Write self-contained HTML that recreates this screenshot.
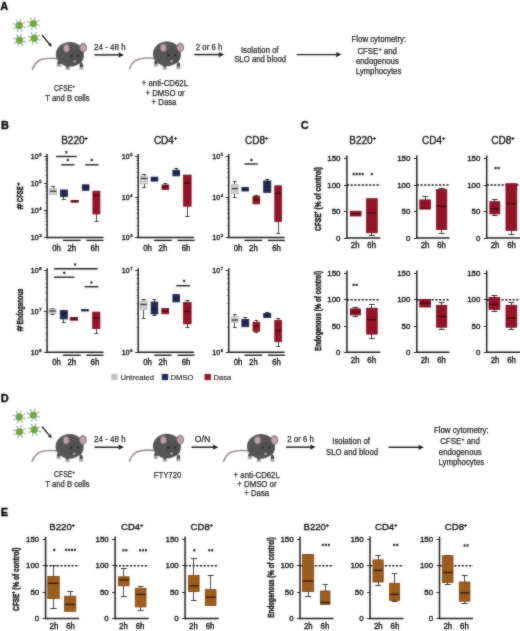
<!DOCTYPE html>
<html><head><meta charset="utf-8"><style>
html,body{margin:0;padding:0;background:#fff;}
body{width:520px;height:631px;overflow:hidden;}
svg{display:block;font-family:"Liberation Sans", sans-serif;-webkit-font-smoothing:antialiased;will-change:transform;}
svg text{stroke:#111;stroke-width:0.38px;}
</style></head><body>
<svg width="520" height="631" viewBox="0 0 520 631">
<defs>
<g id="mouse">
 <path d="M-13,5.2 C-20,4.6 -27,4.6 -31.5,7.6 C-34.5,9.6 -36.4,12.6 -37.4,15.8" fill="none" stroke="#9a8c8e" stroke-width="1.6" stroke-linecap="round"/>
 <ellipse cx="-11" cy="9.8" rx="1.7" ry="2.8" fill="#4a4a4b"/>
 <ellipse cx="-2.2" cy="12.6" rx="1.7" ry="3" fill="#4a4a4b"/>
 <ellipse cx="11.5" cy="12.2" rx="1.7" ry="3" fill="#4a4a4b"/>
 <ellipse cx="-11" cy="12.3" rx="2.4" ry="1.4" fill="#b3a6a9"/>
 <ellipse cx="-2.2" cy="15.4" rx="2.4" ry="1.4" fill="#b3a6a9"/>
 <ellipse cx="11.5" cy="14.9" rx="2.4" ry="1.4" fill="#b3a6a9"/>
 <ellipse cx="0" cy="0.9" rx="14" ry="12.3" fill="#555655"/>
 <ellipse cx="6" cy="3.6" rx="7.6" ry="7.4" fill="#4f504f"/>
 <ellipse cx="-3.5" cy="-5.4" rx="3.5" ry="4.4" fill="#7e7476"/>
 <ellipse cx="-3.5" cy="-5.2" rx="2.5" ry="3.3" fill="#bba9aa"/>
 <ellipse cx="13.3" cy="-5.6" rx="3.8" ry="4.7" fill="#7e7476"/>
 <ellipse cx="13.3" cy="-5.4" rx="2.7" ry="3.6" fill="#bba9aa"/>
 <circle cx="1.5" cy="2.3" r="1.0" fill="#1f1f22"/>
 <circle cx="8.4" cy="2.3" r="1.0" fill="#1f1f22"/>
 <ellipse cx="4.6" cy="8.2" rx="1.5" ry="1.0" fill="#c7b0b2"/>
</g><filter id="soft" color-interpolation-filters="sRGB" x="0" y="0" width="520" height="631" filterUnits="userSpaceOnUse"><feGaussianBlur in="SourceGraphic" stdDeviation="0.8" result="b"/><feComposite in="SourceGraphic" in2="b" operator="arithmetic" k1="0" k2="0.55" k3="0.45" k4="0"/></filter></defs>
<rect width="520" height="631" fill="#fff"/>
<g filter="url(#soft)">
<text x="0.30" y="9.80" font-size="11" text-anchor="start" font-weight="bold" fill="#000" >A</text>
<text x="1.00" y="128.80" font-size="11" text-anchor="start" font-weight="bold" fill="#000" >B</text>
<text x="300.80" y="129.20" font-size="11" text-anchor="start" font-weight="bold" fill="#000" >C</text>
<text x="0.80" y="402.00" font-size="11" text-anchor="start" font-weight="bold" fill="#000" >D</text>
<text x="0.80" y="515.90" font-size="11" text-anchor="start" font-weight="bold" fill="#000" >E</text>
<line x1="22.54" y1="26.53" x2="24.84" y2="27.24" stroke="#97bd82" stroke-width="0.9"/><circle cx="24.84" cy="27.24" r="0.8" fill="#93a7b8"/><line x1="20.83" y1="28.60" x2="21.95" y2="30.72" stroke="#97bd82" stroke-width="0.9"/><circle cx="21.95" cy="30.72" r="0.8" fill="#93a7b8"/><line x1="18.17" y1="28.84" x2="17.46" y2="31.14" stroke="#97bd82" stroke-width="0.9"/><circle cx="17.46" cy="31.14" r="0.8" fill="#93a7b8"/><line x1="16.10" y1="27.13" x2="13.98" y2="28.25" stroke="#97bd82" stroke-width="0.9"/><circle cx="13.98" cy="28.25" r="0.8" fill="#93a7b8"/><line x1="15.86" y1="24.47" x2="13.56" y2="23.76" stroke="#97bd82" stroke-width="0.9"/><circle cx="13.56" cy="23.76" r="0.8" fill="#93a7b8"/><line x1="17.57" y1="22.40" x2="16.45" y2="20.28" stroke="#97bd82" stroke-width="0.9"/><circle cx="16.45" cy="20.28" r="0.8" fill="#93a7b8"/><line x1="20.23" y1="22.16" x2="20.94" y2="19.86" stroke="#97bd82" stroke-width="0.9"/><circle cx="20.94" cy="19.86" r="0.8" fill="#93a7b8"/><line x1="22.30" y1="23.87" x2="24.42" y2="22.75" stroke="#97bd82" stroke-width="0.9"/><circle cx="24.42" cy="22.75" r="0.8" fill="#93a7b8"/><circle cx="19.2" cy="25.5" r="3.7" fill="#6ea843"/>
<line x1="36.74" y1="24.63" x2="39.04" y2="25.34" stroke="#97bd82" stroke-width="0.9"/><circle cx="39.04" cy="25.34" r="0.8" fill="#93a7b8"/><line x1="35.03" y1="26.70" x2="36.15" y2="28.82" stroke="#97bd82" stroke-width="0.9"/><circle cx="36.15" cy="28.82" r="0.8" fill="#93a7b8"/><line x1="32.37" y1="26.94" x2="31.66" y2="29.24" stroke="#97bd82" stroke-width="0.9"/><circle cx="31.66" cy="29.24" r="0.8" fill="#93a7b8"/><line x1="30.30" y1="25.23" x2="28.18" y2="26.35" stroke="#97bd82" stroke-width="0.9"/><circle cx="28.18" cy="26.35" r="0.8" fill="#93a7b8"/><line x1="30.06" y1="22.57" x2="27.76" y2="21.86" stroke="#97bd82" stroke-width="0.9"/><circle cx="27.76" cy="21.86" r="0.8" fill="#93a7b8"/><line x1="31.77" y1="20.50" x2="30.65" y2="18.38" stroke="#97bd82" stroke-width="0.9"/><circle cx="30.65" cy="18.38" r="0.8" fill="#93a7b8"/><line x1="34.43" y1="20.26" x2="35.14" y2="17.96" stroke="#97bd82" stroke-width="0.9"/><circle cx="35.14" cy="17.96" r="0.8" fill="#93a7b8"/><line x1="36.50" y1="21.97" x2="38.62" y2="20.85" stroke="#97bd82" stroke-width="0.9"/><circle cx="38.62" cy="20.85" r="0.8" fill="#93a7b8"/><circle cx="33.4" cy="23.6" r="3.7" fill="#6ea843"/>
<line x1="22.84" y1="41.23" x2="25.14" y2="41.94" stroke="#97bd82" stroke-width="0.9"/><circle cx="25.14" cy="41.94" r="0.8" fill="#93a7b8"/><line x1="21.13" y1="43.30" x2="22.25" y2="45.42" stroke="#97bd82" stroke-width="0.9"/><circle cx="22.25" cy="45.42" r="0.8" fill="#93a7b8"/><line x1="18.47" y1="43.54" x2="17.76" y2="45.84" stroke="#97bd82" stroke-width="0.9"/><circle cx="17.76" cy="45.84" r="0.8" fill="#93a7b8"/><line x1="16.40" y1="41.83" x2="14.28" y2="42.95" stroke="#97bd82" stroke-width="0.9"/><circle cx="14.28" cy="42.95" r="0.8" fill="#93a7b8"/><line x1="16.16" y1="39.17" x2="13.86" y2="38.46" stroke="#97bd82" stroke-width="0.9"/><circle cx="13.86" cy="38.46" r="0.8" fill="#93a7b8"/><line x1="17.87" y1="37.10" x2="16.75" y2="34.98" stroke="#97bd82" stroke-width="0.9"/><circle cx="16.75" cy="34.98" r="0.8" fill="#93a7b8"/><line x1="20.53" y1="36.86" x2="21.24" y2="34.56" stroke="#97bd82" stroke-width="0.9"/><circle cx="21.24" cy="34.56" r="0.8" fill="#93a7b8"/><line x1="22.60" y1="38.57" x2="24.72" y2="37.45" stroke="#97bd82" stroke-width="0.9"/><circle cx="24.72" cy="37.45" r="0.8" fill="#93a7b8"/><circle cx="19.5" cy="40.2" r="3.7" fill="#6ea843"/>
<line x1="37.54" y1="39.23" x2="39.84" y2="39.94" stroke="#97bd82" stroke-width="0.9"/><circle cx="39.84" cy="39.94" r="0.8" fill="#93a7b8"/><line x1="35.83" y1="41.30" x2="36.95" y2="43.42" stroke="#97bd82" stroke-width="0.9"/><circle cx="36.95" cy="43.42" r="0.8" fill="#93a7b8"/><line x1="33.17" y1="41.54" x2="32.46" y2="43.84" stroke="#97bd82" stroke-width="0.9"/><circle cx="32.46" cy="43.84" r="0.8" fill="#93a7b8"/><line x1="31.10" y1="39.83" x2="28.98" y2="40.95" stroke="#97bd82" stroke-width="0.9"/><circle cx="28.98" cy="40.95" r="0.8" fill="#93a7b8"/><line x1="30.86" y1="37.17" x2="28.56" y2="36.46" stroke="#97bd82" stroke-width="0.9"/><circle cx="28.56" cy="36.46" r="0.8" fill="#93a7b8"/><line x1="32.57" y1="35.10" x2="31.45" y2="32.98" stroke="#97bd82" stroke-width="0.9"/><circle cx="31.45" cy="32.98" r="0.8" fill="#93a7b8"/><line x1="35.23" y1="34.86" x2="35.94" y2="32.56" stroke="#97bd82" stroke-width="0.9"/><circle cx="35.94" cy="32.56" r="0.8" fill="#93a7b8"/><line x1="37.30" y1="36.57" x2="39.42" y2="35.45" stroke="#97bd82" stroke-width="0.9"/><circle cx="39.42" cy="35.45" r="0.8" fill="#93a7b8"/><circle cx="34.2" cy="38.2" r="3.7" fill="#6ea843"/>
<line x1="42.00" y1="35.00" x2="49.37" y2="43.88" stroke="#111" stroke-width="1.3" />
<path d="M51.80,46.80 L47.91,45.09 L50.83,42.66 Z" fill="#111"/>
<use href="#mouse" transform="translate(69.9,53.4)"/>
<text x="94.00" y="50.00" font-size="8.4" text-anchor="start" fill="#262626" style="stroke:#262626;stroke-width:0.25px" textLength="31.60" lengthAdjust="spacingAndGlyphs">24 - 48 h</text>
<line x1="94.50" y1="54.90" x2="119.90" y2="54.90" stroke="#111" stroke-width="1.4" />
<path d="M123.90,54.90 L118.30,52.30 L119.30,54.90 L118.30,57.50 Z" fill="#111"/>
<text x="64.60" y="91.40" font-size="8.4" text-anchor="middle" fill="#262626" style="stroke:#262626;stroke-width:0.25px" textLength="21.00" lengthAdjust="spacingAndGlyphs">CFSE<tspan font-size="6" dy="-3.3">+</tspan></text>
<text x="67.40" y="101.20" font-size="8.4" text-anchor="middle" fill="#262626" style="stroke:#262626;stroke-width:0.25px" textLength="44.20" lengthAdjust="spacingAndGlyphs">T and B cells</text>
<use href="#mouse" transform="translate(166.9,53.0)"/>
<text x="164.90" y="86.20" font-size="8.4" text-anchor="middle" fill="#262626" style="stroke:#262626;stroke-width:0.25px" textLength="46.17" lengthAdjust="spacingAndGlyphs">+ anti-CD62L</text>
<text x="165.10" y="95.70" font-size="8.4" text-anchor="middle" fill="#262626" style="stroke:#262626;stroke-width:0.25px" textLength="39.22" lengthAdjust="spacingAndGlyphs">+ DMSO or</text>
<text x="164.00" y="105.00" font-size="8.4" text-anchor="middle" fill="#262626" style="stroke:#262626;stroke-width:0.25px" textLength="24.93" lengthAdjust="spacingAndGlyphs">+ Dasa</text>
<text x="195.80" y="50.20" font-size="8.4" text-anchor="start" fill="#262626" style="stroke:#262626;stroke-width:0.25px" textLength="26.45" lengthAdjust="spacingAndGlyphs">2 or 6 h</text>
<line x1="194.20" y1="54.60" x2="220.20" y2="54.60" stroke="#111" stroke-width="1.4" />
<path d="M224.20,54.60 L218.60,52.00 L219.60,54.60 L218.60,57.20 Z" fill="#111"/>
<text x="259.80" y="52.50" font-size="8.4" text-anchor="middle" fill="#262626" style="stroke:#262626;stroke-width:0.25px" textLength="37.72" lengthAdjust="spacingAndGlyphs">Isolation of</text>
<text x="260.20" y="62.10" font-size="8.4" text-anchor="middle" fill="#262626" style="stroke:#262626;stroke-width:0.25px" textLength="52.04" lengthAdjust="spacingAndGlyphs">SLO and blood</text>
<line x1="296.70" y1="54.60" x2="337.40" y2="54.60" stroke="#111" stroke-width="1.4" />
<path d="M341.40,54.60 L335.80,52.00 L336.80,54.60 L335.80,57.20 Z" fill="#111"/>
<text x="378.90" y="41.80" font-size="8.4" text-anchor="middle" fill="#262626" style="stroke:#262626;stroke-width:0.25px" textLength="54.60" lengthAdjust="spacingAndGlyphs">Flow cytometry:</text>
<text x="377.20" y="54.00" font-size="8.4" text-anchor="middle" fill="#262626" style="stroke:#262626;stroke-width:0.25px" textLength="39.60" lengthAdjust="spacingAndGlyphs">CFSE<tspan font-size="6" dy="-3.3">+</tspan><tspan dy="3.3"> and</tspan></text>
<text x="377.40" y="63.80" font-size="8.4" text-anchor="middle" fill="#262626" style="stroke:#262626;stroke-width:0.25px" textLength="42.94" lengthAdjust="spacingAndGlyphs">endogenous</text>
<text x="378.50" y="73.50" font-size="8.4" text-anchor="middle" fill="#262626" style="stroke:#262626;stroke-width:0.25px" textLength="45.66" lengthAdjust="spacingAndGlyphs">Lymphocytes</text>
<line x1="22.54" y1="418.03" x2="24.84" y2="418.74" stroke="#97bd82" stroke-width="0.9"/><circle cx="24.84" cy="418.74" r="0.8" fill="#93a7b8"/><line x1="20.83" y1="420.10" x2="21.95" y2="422.22" stroke="#97bd82" stroke-width="0.9"/><circle cx="21.95" cy="422.22" r="0.8" fill="#93a7b8"/><line x1="18.17" y1="420.34" x2="17.46" y2="422.64" stroke="#97bd82" stroke-width="0.9"/><circle cx="17.46" cy="422.64" r="0.8" fill="#93a7b8"/><line x1="16.10" y1="418.63" x2="13.98" y2="419.75" stroke="#97bd82" stroke-width="0.9"/><circle cx="13.98" cy="419.75" r="0.8" fill="#93a7b8"/><line x1="15.86" y1="415.97" x2="13.56" y2="415.26" stroke="#97bd82" stroke-width="0.9"/><circle cx="13.56" cy="415.26" r="0.8" fill="#93a7b8"/><line x1="17.57" y1="413.90" x2="16.45" y2="411.78" stroke="#97bd82" stroke-width="0.9"/><circle cx="16.45" cy="411.78" r="0.8" fill="#93a7b8"/><line x1="20.23" y1="413.66" x2="20.94" y2="411.36" stroke="#97bd82" stroke-width="0.9"/><circle cx="20.94" cy="411.36" r="0.8" fill="#93a7b8"/><line x1="22.30" y1="415.37" x2="24.42" y2="414.25" stroke="#97bd82" stroke-width="0.9"/><circle cx="24.42" cy="414.25" r="0.8" fill="#93a7b8"/><circle cx="19.2" cy="417.0" r="3.7" fill="#6ea843"/>
<line x1="36.74" y1="416.13" x2="39.04" y2="416.84" stroke="#97bd82" stroke-width="0.9"/><circle cx="39.04" cy="416.84" r="0.8" fill="#93a7b8"/><line x1="35.03" y1="418.20" x2="36.15" y2="420.32" stroke="#97bd82" stroke-width="0.9"/><circle cx="36.15" cy="420.32" r="0.8" fill="#93a7b8"/><line x1="32.37" y1="418.44" x2="31.66" y2="420.74" stroke="#97bd82" stroke-width="0.9"/><circle cx="31.66" cy="420.74" r="0.8" fill="#93a7b8"/><line x1="30.30" y1="416.73" x2="28.18" y2="417.85" stroke="#97bd82" stroke-width="0.9"/><circle cx="28.18" cy="417.85" r="0.8" fill="#93a7b8"/><line x1="30.06" y1="414.07" x2="27.76" y2="413.36" stroke="#97bd82" stroke-width="0.9"/><circle cx="27.76" cy="413.36" r="0.8" fill="#93a7b8"/><line x1="31.77" y1="412.00" x2="30.65" y2="409.88" stroke="#97bd82" stroke-width="0.9"/><circle cx="30.65" cy="409.88" r="0.8" fill="#93a7b8"/><line x1="34.43" y1="411.76" x2="35.14" y2="409.46" stroke="#97bd82" stroke-width="0.9"/><circle cx="35.14" cy="409.46" r="0.8" fill="#93a7b8"/><line x1="36.50" y1="413.47" x2="38.62" y2="412.35" stroke="#97bd82" stroke-width="0.9"/><circle cx="38.62" cy="412.35" r="0.8" fill="#93a7b8"/><circle cx="33.4" cy="415.1" r="3.7" fill="#6ea843"/>
<line x1="22.84" y1="432.73" x2="25.14" y2="433.44" stroke="#97bd82" stroke-width="0.9"/><circle cx="25.14" cy="433.44" r="0.8" fill="#93a7b8"/><line x1="21.13" y1="434.80" x2="22.25" y2="436.92" stroke="#97bd82" stroke-width="0.9"/><circle cx="22.25" cy="436.92" r="0.8" fill="#93a7b8"/><line x1="18.47" y1="435.04" x2="17.76" y2="437.34" stroke="#97bd82" stroke-width="0.9"/><circle cx="17.76" cy="437.34" r="0.8" fill="#93a7b8"/><line x1="16.40" y1="433.33" x2="14.28" y2="434.45" stroke="#97bd82" stroke-width="0.9"/><circle cx="14.28" cy="434.45" r="0.8" fill="#93a7b8"/><line x1="16.16" y1="430.67" x2="13.86" y2="429.96" stroke="#97bd82" stroke-width="0.9"/><circle cx="13.86" cy="429.96" r="0.8" fill="#93a7b8"/><line x1="17.87" y1="428.60" x2="16.75" y2="426.48" stroke="#97bd82" stroke-width="0.9"/><circle cx="16.75" cy="426.48" r="0.8" fill="#93a7b8"/><line x1="20.53" y1="428.36" x2="21.24" y2="426.06" stroke="#97bd82" stroke-width="0.9"/><circle cx="21.24" cy="426.06" r="0.8" fill="#93a7b8"/><line x1="22.60" y1="430.07" x2="24.72" y2="428.95" stroke="#97bd82" stroke-width="0.9"/><circle cx="24.72" cy="428.95" r="0.8" fill="#93a7b8"/><circle cx="19.5" cy="431.7" r="3.7" fill="#6ea843"/>
<line x1="37.54" y1="430.73" x2="39.84" y2="431.44" stroke="#97bd82" stroke-width="0.9"/><circle cx="39.84" cy="431.44" r="0.8" fill="#93a7b8"/><line x1="35.83" y1="432.80" x2="36.95" y2="434.92" stroke="#97bd82" stroke-width="0.9"/><circle cx="36.95" cy="434.92" r="0.8" fill="#93a7b8"/><line x1="33.17" y1="433.04" x2="32.46" y2="435.34" stroke="#97bd82" stroke-width="0.9"/><circle cx="32.46" cy="435.34" r="0.8" fill="#93a7b8"/><line x1="31.10" y1="431.33" x2="28.98" y2="432.45" stroke="#97bd82" stroke-width="0.9"/><circle cx="28.98" cy="432.45" r="0.8" fill="#93a7b8"/><line x1="30.86" y1="428.67" x2="28.56" y2="427.96" stroke="#97bd82" stroke-width="0.9"/><circle cx="28.56" cy="427.96" r="0.8" fill="#93a7b8"/><line x1="32.57" y1="426.60" x2="31.45" y2="424.48" stroke="#97bd82" stroke-width="0.9"/><circle cx="31.45" cy="424.48" r="0.8" fill="#93a7b8"/><line x1="35.23" y1="426.36" x2="35.94" y2="424.06" stroke="#97bd82" stroke-width="0.9"/><circle cx="35.94" cy="424.06" r="0.8" fill="#93a7b8"/><line x1="37.30" y1="428.07" x2="39.42" y2="426.95" stroke="#97bd82" stroke-width="0.9"/><circle cx="39.42" cy="426.95" r="0.8" fill="#93a7b8"/><circle cx="34.2" cy="429.7" r="3.7" fill="#6ea843"/>
<line x1="42.00" y1="426.50" x2="49.37" y2="435.38" stroke="#111" stroke-width="1.3" />
<path d="M51.80,438.30 L47.91,436.59 L50.83,434.16 Z" fill="#111"/>
<use href="#mouse" transform="translate(69.6,445.5)"/>
<text x="94.00" y="441.50" font-size="8.4" text-anchor="start" fill="#262626" style="stroke:#262626;stroke-width:0.25px" textLength="31.60" lengthAdjust="spacingAndGlyphs">24 - 48 h</text>
<line x1="94.50" y1="447.20" x2="119.90" y2="447.20" stroke="#111" stroke-width="1.4" />
<path d="M123.90,447.20 L118.30,444.60 L119.30,447.20 L118.30,449.80 Z" fill="#111"/>
<text x="64.60" y="477.20" font-size="8.4" text-anchor="middle" fill="#262626" style="stroke:#262626;stroke-width:0.25px" textLength="21.00" lengthAdjust="spacingAndGlyphs">CFSE<tspan font-size="6" dy="-3.3">+</tspan></text>
<text x="67.40" y="486.90" font-size="8.4" text-anchor="middle" fill="#262626" style="stroke:#262626;stroke-width:0.25px" textLength="44.20" lengthAdjust="spacingAndGlyphs">T and B cells</text>
<use href="#mouse" transform="translate(166.9,445.2)"/>
<text x="167.50" y="477.90" font-size="8.4" text-anchor="middle" fill="#262626" style="stroke:#262626;stroke-width:0.25px" textLength="27.74" lengthAdjust="spacingAndGlyphs">FTY720</text>
<text x="194.80" y="442.10" font-size="8.4" text-anchor="start" fill="#262626" style="stroke:#262626;stroke-width:0.25px" textLength="15.40" lengthAdjust="spacingAndGlyphs">O/N</text>
<line x1="191.40" y1="447.20" x2="214.30" y2="447.20" stroke="#111" stroke-width="1.4" />
<path d="M218.30,447.20 L212.70,444.60 L213.70,447.20 L212.70,449.80 Z" fill="#111"/>
<use href="#mouse" transform="translate(261.0,445.5)"/>
<text x="256.70" y="477.70" font-size="8.4" text-anchor="middle" fill="#262626" style="stroke:#262626;stroke-width:0.25px" textLength="46.17" lengthAdjust="spacingAndGlyphs">+ anti-CD62L</text>
<text x="256.90" y="487.20" font-size="8.4" text-anchor="middle" fill="#262626" style="stroke:#262626;stroke-width:0.25px" textLength="39.22" lengthAdjust="spacingAndGlyphs">+ DMSO or</text>
<text x="256.70" y="496.30" font-size="8.4" text-anchor="middle" fill="#262626" style="stroke:#262626;stroke-width:0.25px" textLength="24.93" lengthAdjust="spacingAndGlyphs">+ Dasa</text>
<text x="287.30" y="441.90" font-size="8.4" text-anchor="start" fill="#262626" style="stroke:#262626;stroke-width:0.25px" textLength="26.45" lengthAdjust="spacingAndGlyphs">2 or 6 h</text>
<line x1="286.00" y1="447.10" x2="311.60" y2="447.10" stroke="#111" stroke-width="1.4" />
<path d="M315.60,447.10 L310.00,444.50 L311.00,447.10 L310.00,449.70 Z" fill="#111"/>
<text x="351.10" y="444.20" font-size="8.4" text-anchor="middle" fill="#262626" style="stroke:#262626;stroke-width:0.25px" textLength="37.72" lengthAdjust="spacingAndGlyphs">Isolation of</text>
<text x="352.10" y="454.60" font-size="8.4" text-anchor="middle" fill="#262626" style="stroke:#262626;stroke-width:0.25px" textLength="52.04" lengthAdjust="spacingAndGlyphs">SLO and blood</text>
<line x1="388.50" y1="447.30" x2="419.80" y2="447.30" stroke="#111" stroke-width="1.4" />
<path d="M423.80,447.30 L418.20,444.70 L419.20,447.30 L418.20,449.90 Z" fill="#111"/>
<text x="461.30" y="432.70" font-size="8.4" text-anchor="middle" fill="#262626" style="stroke:#262626;stroke-width:0.25px" textLength="54.60" lengthAdjust="spacingAndGlyphs">Flow cytometry:</text>
<text x="460.00" y="443.90" font-size="8.4" text-anchor="middle" fill="#262626" style="stroke:#262626;stroke-width:0.25px" textLength="39.60" lengthAdjust="spacingAndGlyphs">CFSE<tspan font-size="6" dy="-3.3">+</tspan><tspan dy="3.3"> and</tspan></text>
<text x="460.30" y="455.40" font-size="8.4" text-anchor="middle" fill="#262626" style="stroke:#262626;stroke-width:0.25px" textLength="42.94" lengthAdjust="spacingAndGlyphs">endogenous</text>
<text x="461.30" y="465.00" font-size="8.4" text-anchor="middle" fill="#262626" style="stroke:#262626;stroke-width:0.25px" textLength="45.66" lengthAdjust="spacingAndGlyphs">Lymphocytes</text>
<text x="74.50" y="143.80" font-size="10" text-anchor="middle" fill="#1e1e1e">B220<tspan font-size="5.50" dy="-4.00">+</tspan></text>
<text x="165.50" y="143.80" font-size="10" text-anchor="middle" fill="#1e1e1e">CD4<tspan font-size="5.50" dy="-4.00">+</tspan></text>
<text x="256.60" y="143.80" font-size="10" text-anchor="middle" fill="#1e1e1e">CD8<tspan font-size="5.50" dy="-4.00">+</tspan></text>
<line x1="47.10" y1="154.00" x2="47.10" y2="238.30" stroke="#1a1a1a" stroke-width="1.5" />
<line x1="46.40" y1="237.60" x2="103.50" y2="237.60" stroke="#1a1a1a" stroke-width="1.5" />
<line x1="44.10" y1="156.50" x2="47.10" y2="156.50" stroke="#222" stroke-width="1.0" />
<text x="41.50" y="159.30" font-size="7.0" text-anchor="end" fill="#1e1e1e">10<tspan font-size="4.20" dy="-2.94" dx="0.6">6</tspan></text>
<line x1="44.10" y1="183.50" x2="47.10" y2="183.50" stroke="#222" stroke-width="1.0" />
<text x="41.50" y="186.30" font-size="7.0" text-anchor="end" fill="#1e1e1e">10<tspan font-size="4.20" dy="-2.94" dx="0.6">5</tspan></text>
<line x1="44.10" y1="210.50" x2="47.10" y2="210.50" stroke="#222" stroke-width="1.0" />
<text x="41.50" y="213.20" font-size="7.0" text-anchor="end" fill="#1e1e1e">10<tspan font-size="4.20" dy="-2.94" dx="0.6">4</tspan></text>
<line x1="44.10" y1="237.50" x2="47.10" y2="237.50" stroke="#222" stroke-width="1.0" />
<text x="41.50" y="240.10" font-size="7.0" text-anchor="end" fill="#1e1e1e">10<tspan font-size="4.20" dy="-2.94" dx="0.6">3</tspan></text>
<line x1="45.50" y1="175.50" x2="47.10" y2="175.50" stroke="#333" stroke-width="0.7" />
<line x1="45.50" y1="170.50" x2="47.10" y2="170.50" stroke="#333" stroke-width="0.7" />
<line x1="45.50" y1="167.50" x2="47.10" y2="167.50" stroke="#333" stroke-width="0.7" />
<line x1="45.50" y1="164.50" x2="47.10" y2="164.50" stroke="#333" stroke-width="0.7" />
<line x1="45.50" y1="162.50" x2="47.10" y2="162.50" stroke="#333" stroke-width="0.7" />
<line x1="45.50" y1="160.50" x2="47.10" y2="160.50" stroke="#333" stroke-width="0.7" />
<line x1="45.50" y1="159.50" x2="47.10" y2="159.50" stroke="#333" stroke-width="0.7" />
<line x1="45.50" y1="158.50" x2="47.10" y2="158.50" stroke="#333" stroke-width="0.7" />
<line x1="45.50" y1="202.50" x2="47.10" y2="202.50" stroke="#333" stroke-width="0.7" />
<line x1="45.50" y1="197.50" x2="47.10" y2="197.50" stroke="#333" stroke-width="0.7" />
<line x1="45.50" y1="194.50" x2="47.10" y2="194.50" stroke="#333" stroke-width="0.7" />
<line x1="45.50" y1="191.50" x2="47.10" y2="191.50" stroke="#333" stroke-width="0.7" />
<line x1="45.50" y1="189.50" x2="47.10" y2="189.50" stroke="#333" stroke-width="0.7" />
<line x1="45.50" y1="187.50" x2="47.10" y2="187.50" stroke="#333" stroke-width="0.7" />
<line x1="45.50" y1="186.50" x2="47.10" y2="186.50" stroke="#333" stroke-width="0.7" />
<line x1="45.50" y1="185.50" x2="47.10" y2="185.50" stroke="#333" stroke-width="0.7" />
<line x1="45.50" y1="229.50" x2="47.10" y2="229.50" stroke="#333" stroke-width="0.7" />
<line x1="45.50" y1="224.50" x2="47.10" y2="224.50" stroke="#333" stroke-width="0.7" />
<line x1="45.50" y1="221.50" x2="47.10" y2="221.50" stroke="#333" stroke-width="0.7" />
<line x1="45.50" y1="218.50" x2="47.10" y2="218.50" stroke="#333" stroke-width="0.7" />
<line x1="45.50" y1="216.50" x2="47.10" y2="216.50" stroke="#333" stroke-width="0.7" />
<line x1="45.50" y1="214.50" x2="47.10" y2="214.50" stroke="#333" stroke-width="0.7" />
<line x1="45.50" y1="213.50" x2="47.10" y2="213.50" stroke="#333" stroke-width="0.7" />
<line x1="45.50" y1="211.50" x2="47.10" y2="211.50" stroke="#333" stroke-width="0.7" />
<line x1="63.00" y1="240.40" x2="80.60" y2="240.40" stroke="#1a1a1a" stroke-width="1.4" />
<line x1="86.40" y1="240.40" x2="103.40" y2="240.40" stroke="#1a1a1a" stroke-width="1.4" />
<text x="56.50" y="250.90" font-size="8.19" text-anchor="middle" fill="#1e1e1e" textLength="8.68" lengthAdjust="spacingAndGlyphs">0h</text>
<text x="71.80" y="250.90" font-size="8.19" text-anchor="middle" fill="#1e1e1e" textLength="8.68" lengthAdjust="spacingAndGlyphs">2h</text>
<text x="94.90" y="250.90" font-size="8.19" text-anchor="middle" fill="#1e1e1e" textLength="8.68" lengthAdjust="spacingAndGlyphs">6h</text>
<line x1="138.20" y1="154.00" x2="138.20" y2="238.30" stroke="#1a1a1a" stroke-width="1.5" />
<line x1="137.50" y1="237.60" x2="194.00" y2="237.60" stroke="#1a1a1a" stroke-width="1.5" />
<line x1="135.20" y1="156.50" x2="138.20" y2="156.50" stroke="#222" stroke-width="1.0" />
<text x="132.60" y="159.30" font-size="7.0" text-anchor="end" fill="#1e1e1e">10<tspan font-size="4.20" dy="-2.94" dx="0.6">5</tspan></text>
<line x1="135.20" y1="197.50" x2="138.20" y2="197.50" stroke="#222" stroke-width="1.0" />
<text x="132.60" y="199.70" font-size="7.0" text-anchor="end" fill="#1e1e1e">10<tspan font-size="4.20" dy="-2.94" dx="0.6">4</tspan></text>
<line x1="135.20" y1="237.50" x2="138.20" y2="237.50" stroke="#222" stroke-width="1.0" />
<text x="132.60" y="240.10" font-size="7.0" text-anchor="end" fill="#1e1e1e">10<tspan font-size="4.20" dy="-2.94" dx="0.6">3</tspan></text>
<line x1="136.60" y1="185.50" x2="138.20" y2="185.50" stroke="#333" stroke-width="0.7" />
<line x1="136.60" y1="177.50" x2="138.20" y2="177.50" stroke="#333" stroke-width="0.7" />
<line x1="136.60" y1="172.50" x2="138.20" y2="172.50" stroke="#333" stroke-width="0.7" />
<line x1="136.60" y1="168.50" x2="138.20" y2="168.50" stroke="#333" stroke-width="0.7" />
<line x1="136.60" y1="165.50" x2="138.20" y2="165.50" stroke="#333" stroke-width="0.7" />
<line x1="136.60" y1="163.50" x2="138.20" y2="163.50" stroke="#333" stroke-width="0.7" />
<line x1="136.60" y1="160.50" x2="138.20" y2="160.50" stroke="#333" stroke-width="0.7" />
<line x1="136.60" y1="158.50" x2="138.20" y2="158.50" stroke="#333" stroke-width="0.7" />
<line x1="136.60" y1="225.50" x2="138.20" y2="225.50" stroke="#333" stroke-width="0.7" />
<line x1="136.60" y1="218.50" x2="138.20" y2="218.50" stroke="#333" stroke-width="0.7" />
<line x1="136.60" y1="213.50" x2="138.20" y2="213.50" stroke="#333" stroke-width="0.7" />
<line x1="136.60" y1="209.50" x2="138.20" y2="209.50" stroke="#333" stroke-width="0.7" />
<line x1="136.60" y1="206.50" x2="138.20" y2="206.50" stroke="#333" stroke-width="0.7" />
<line x1="136.60" y1="203.50" x2="138.20" y2="203.50" stroke="#333" stroke-width="0.7" />
<line x1="136.60" y1="201.50" x2="138.20" y2="201.50" stroke="#333" stroke-width="0.7" />
<line x1="136.60" y1="199.50" x2="138.20" y2="199.50" stroke="#333" stroke-width="0.7" />
<line x1="154.10" y1="240.40" x2="171.70" y2="240.40" stroke="#1a1a1a" stroke-width="1.4" />
<line x1="177.50" y1="240.40" x2="194.50" y2="240.40" stroke="#1a1a1a" stroke-width="1.4" />
<text x="147.60" y="250.90" font-size="8.19" text-anchor="middle" fill="#1e1e1e" textLength="8.68" lengthAdjust="spacingAndGlyphs">0h</text>
<text x="162.90" y="250.90" font-size="8.19" text-anchor="middle" fill="#1e1e1e" textLength="8.68" lengthAdjust="spacingAndGlyphs">2h</text>
<text x="186.00" y="250.90" font-size="8.19" text-anchor="middle" fill="#1e1e1e" textLength="8.68" lengthAdjust="spacingAndGlyphs">6h</text>
<line x1="228.70" y1="154.00" x2="228.70" y2="238.30" stroke="#1a1a1a" stroke-width="1.5" />
<line x1="228.00" y1="237.60" x2="284.50" y2="237.60" stroke="#1a1a1a" stroke-width="1.5" />
<line x1="225.70" y1="156.50" x2="228.70" y2="156.50" stroke="#222" stroke-width="1.0" />
<text x="223.10" y="159.30" font-size="7.0" text-anchor="end" fill="#1e1e1e">10<tspan font-size="4.20" dy="-2.94" dx="0.6">5</tspan></text>
<line x1="225.70" y1="197.50" x2="228.70" y2="197.50" stroke="#222" stroke-width="1.0" />
<text x="223.10" y="199.70" font-size="7.0" text-anchor="end" fill="#1e1e1e">10<tspan font-size="4.20" dy="-2.94" dx="0.6">4</tspan></text>
<line x1="225.70" y1="237.50" x2="228.70" y2="237.50" stroke="#222" stroke-width="1.0" />
<text x="223.10" y="240.10" font-size="7.0" text-anchor="end" fill="#1e1e1e">10<tspan font-size="4.20" dy="-2.94" dx="0.6">3</tspan></text>
<line x1="227.10" y1="185.50" x2="228.70" y2="185.50" stroke="#333" stroke-width="0.7" />
<line x1="227.10" y1="177.50" x2="228.70" y2="177.50" stroke="#333" stroke-width="0.7" />
<line x1="227.10" y1="172.50" x2="228.70" y2="172.50" stroke="#333" stroke-width="0.7" />
<line x1="227.10" y1="168.50" x2="228.70" y2="168.50" stroke="#333" stroke-width="0.7" />
<line x1="227.10" y1="165.50" x2="228.70" y2="165.50" stroke="#333" stroke-width="0.7" />
<line x1="227.10" y1="163.50" x2="228.70" y2="163.50" stroke="#333" stroke-width="0.7" />
<line x1="227.10" y1="160.50" x2="228.70" y2="160.50" stroke="#333" stroke-width="0.7" />
<line x1="227.10" y1="158.50" x2="228.70" y2="158.50" stroke="#333" stroke-width="0.7" />
<line x1="227.10" y1="225.50" x2="228.70" y2="225.50" stroke="#333" stroke-width="0.7" />
<line x1="227.10" y1="218.50" x2="228.70" y2="218.50" stroke="#333" stroke-width="0.7" />
<line x1="227.10" y1="213.50" x2="228.70" y2="213.50" stroke="#333" stroke-width="0.7" />
<line x1="227.10" y1="209.50" x2="228.70" y2="209.50" stroke="#333" stroke-width="0.7" />
<line x1="227.10" y1="206.50" x2="228.70" y2="206.50" stroke="#333" stroke-width="0.7" />
<line x1="227.10" y1="203.50" x2="228.70" y2="203.50" stroke="#333" stroke-width="0.7" />
<line x1="227.10" y1="201.50" x2="228.70" y2="201.50" stroke="#333" stroke-width="0.7" />
<line x1="227.10" y1="199.50" x2="228.70" y2="199.50" stroke="#333" stroke-width="0.7" />
<line x1="244.60" y1="240.40" x2="262.20" y2="240.40" stroke="#1a1a1a" stroke-width="1.4" />
<line x1="268.00" y1="240.40" x2="285.00" y2="240.40" stroke="#1a1a1a" stroke-width="1.4" />
<text x="238.10" y="250.90" font-size="8.19" text-anchor="middle" fill="#1e1e1e" textLength="8.68" lengthAdjust="spacingAndGlyphs">0h</text>
<text x="253.40" y="250.90" font-size="8.19" text-anchor="middle" fill="#1e1e1e" textLength="8.68" lengthAdjust="spacingAndGlyphs">2h</text>
<text x="276.50" y="250.90" font-size="8.19" text-anchor="middle" fill="#1e1e1e" textLength="8.68" lengthAdjust="spacingAndGlyphs">6h</text>
<line x1="47.10" y1="268.20" x2="47.10" y2="353.00" stroke="#1a1a1a" stroke-width="1.5" />
<line x1="46.40" y1="352.30" x2="103.50" y2="352.30" stroke="#1a1a1a" stroke-width="1.5" />
<line x1="44.10" y1="270.50" x2="47.10" y2="270.50" stroke="#222" stroke-width="1.0" />
<text x="41.50" y="273.40" font-size="7.0" text-anchor="end" fill="#1e1e1e">10<tspan font-size="4.20" dy="-2.94" dx="0.6">8</tspan></text>
<line x1="44.10" y1="311.50" x2="47.10" y2="311.50" stroke="#222" stroke-width="1.0" />
<text x="41.50" y="314.20" font-size="7.0" text-anchor="end" fill="#1e1e1e">10<tspan font-size="4.20" dy="-2.94" dx="0.6">7</tspan></text>
<line x1="44.10" y1="352.50" x2="47.10" y2="352.50" stroke="#222" stroke-width="1.0" />
<text x="41.50" y="355.00" font-size="7.0" text-anchor="end" fill="#1e1e1e">10<tspan font-size="4.20" dy="-2.94" dx="0.6">6</tspan></text>
<line x1="45.50" y1="299.50" x2="47.10" y2="299.50" stroke="#333" stroke-width="0.7" />
<line x1="45.50" y1="292.50" x2="47.10" y2="292.50" stroke="#333" stroke-width="0.7" />
<line x1="45.50" y1="287.50" x2="47.10" y2="287.50" stroke="#333" stroke-width="0.7" />
<line x1="45.50" y1="283.50" x2="47.10" y2="283.50" stroke="#333" stroke-width="0.7" />
<line x1="45.50" y1="279.50" x2="47.10" y2="279.50" stroke="#333" stroke-width="0.7" />
<line x1="45.50" y1="277.50" x2="47.10" y2="277.50" stroke="#333" stroke-width="0.7" />
<line x1="45.50" y1="274.50" x2="47.10" y2="274.50" stroke="#333" stroke-width="0.7" />
<line x1="45.50" y1="272.50" x2="47.10" y2="272.50" stroke="#333" stroke-width="0.7" />
<line x1="45.50" y1="340.50" x2="47.10" y2="340.50" stroke="#333" stroke-width="0.7" />
<line x1="45.50" y1="333.50" x2="47.10" y2="333.50" stroke="#333" stroke-width="0.7" />
<line x1="45.50" y1="327.50" x2="47.10" y2="327.50" stroke="#333" stroke-width="0.7" />
<line x1="45.50" y1="323.50" x2="47.10" y2="323.50" stroke="#333" stroke-width="0.7" />
<line x1="45.50" y1="320.50" x2="47.10" y2="320.50" stroke="#333" stroke-width="0.7" />
<line x1="45.50" y1="318.50" x2="47.10" y2="318.50" stroke="#333" stroke-width="0.7" />
<line x1="45.50" y1="315.50" x2="47.10" y2="315.50" stroke="#333" stroke-width="0.7" />
<line x1="45.50" y1="313.50" x2="47.10" y2="313.50" stroke="#333" stroke-width="0.7" />
<line x1="63.00" y1="355.20" x2="80.60" y2="355.20" stroke="#1a1a1a" stroke-width="1.4" />
<line x1="86.40" y1="355.20" x2="103.40" y2="355.20" stroke="#1a1a1a" stroke-width="1.4" />
<text x="56.50" y="364.70" font-size="8.19" text-anchor="middle" fill="#1e1e1e" textLength="8.68" lengthAdjust="spacingAndGlyphs">0h</text>
<text x="71.80" y="364.70" font-size="8.19" text-anchor="middle" fill="#1e1e1e" textLength="8.68" lengthAdjust="spacingAndGlyphs">2h</text>
<text x="94.90" y="364.70" font-size="8.19" text-anchor="middle" fill="#1e1e1e" textLength="8.68" lengthAdjust="spacingAndGlyphs">6h</text>
<line x1="138.20" y1="268.20" x2="138.20" y2="353.00" stroke="#1a1a1a" stroke-width="1.5" />
<line x1="137.50" y1="352.30" x2="194.00" y2="352.30" stroke="#1a1a1a" stroke-width="1.5" />
<line x1="135.20" y1="270.50" x2="138.20" y2="270.50" stroke="#222" stroke-width="1.0" />
<text x="132.60" y="273.40" font-size="7.0" text-anchor="end" fill="#1e1e1e">10<tspan font-size="4.20" dy="-2.94" dx="0.6">7</tspan></text>
<line x1="135.20" y1="352.50" x2="138.20" y2="352.50" stroke="#222" stroke-width="1.0" />
<text x="132.60" y="355.00" font-size="7.0" text-anchor="end" fill="#1e1e1e">10<tspan font-size="4.20" dy="-2.94" dx="0.6">6</tspan></text>
<line x1="136.60" y1="327.50" x2="138.20" y2="327.50" stroke="#333" stroke-width="0.7" />
<line x1="136.60" y1="313.50" x2="138.20" y2="313.50" stroke="#333" stroke-width="0.7" />
<line x1="136.60" y1="303.50" x2="138.20" y2="303.50" stroke="#333" stroke-width="0.7" />
<line x1="136.60" y1="295.50" x2="138.20" y2="295.50" stroke="#333" stroke-width="0.7" />
<line x1="136.60" y1="289.50" x2="138.20" y2="289.50" stroke="#333" stroke-width="0.7" />
<line x1="136.60" y1="283.50" x2="138.20" y2="283.50" stroke="#333" stroke-width="0.7" />
<line x1="136.60" y1="278.50" x2="138.20" y2="278.50" stroke="#333" stroke-width="0.7" />
<line x1="136.60" y1="274.50" x2="138.20" y2="274.50" stroke="#333" stroke-width="0.7" />
<line x1="154.10" y1="355.20" x2="171.70" y2="355.20" stroke="#1a1a1a" stroke-width="1.4" />
<line x1="177.50" y1="355.20" x2="194.50" y2="355.20" stroke="#1a1a1a" stroke-width="1.4" />
<text x="147.60" y="364.70" font-size="8.19" text-anchor="middle" fill="#1e1e1e" textLength="8.68" lengthAdjust="spacingAndGlyphs">0h</text>
<text x="162.90" y="364.70" font-size="8.19" text-anchor="middle" fill="#1e1e1e" textLength="8.68" lengthAdjust="spacingAndGlyphs">2h</text>
<text x="186.00" y="364.70" font-size="8.19" text-anchor="middle" fill="#1e1e1e" textLength="8.68" lengthAdjust="spacingAndGlyphs">6h</text>
<line x1="228.70" y1="268.20" x2="228.70" y2="353.00" stroke="#1a1a1a" stroke-width="1.5" />
<line x1="228.00" y1="352.30" x2="284.50" y2="352.30" stroke="#1a1a1a" stroke-width="1.5" />
<line x1="225.70" y1="270.50" x2="228.70" y2="270.50" stroke="#222" stroke-width="1.0" />
<text x="223.10" y="273.40" font-size="7.0" text-anchor="end" fill="#1e1e1e">10<tspan font-size="4.20" dy="-2.94" dx="0.6">7</tspan></text>
<line x1="225.70" y1="352.50" x2="228.70" y2="352.50" stroke="#222" stroke-width="1.0" />
<text x="223.10" y="355.00" font-size="7.0" text-anchor="end" fill="#1e1e1e">10<tspan font-size="4.20" dy="-2.94" dx="0.6">6</tspan></text>
<line x1="227.10" y1="327.50" x2="228.70" y2="327.50" stroke="#333" stroke-width="0.7" />
<line x1="227.10" y1="313.50" x2="228.70" y2="313.50" stroke="#333" stroke-width="0.7" />
<line x1="227.10" y1="303.50" x2="228.70" y2="303.50" stroke="#333" stroke-width="0.7" />
<line x1="227.10" y1="295.50" x2="228.70" y2="295.50" stroke="#333" stroke-width="0.7" />
<line x1="227.10" y1="289.50" x2="228.70" y2="289.50" stroke="#333" stroke-width="0.7" />
<line x1="227.10" y1="283.50" x2="228.70" y2="283.50" stroke="#333" stroke-width="0.7" />
<line x1="227.10" y1="278.50" x2="228.70" y2="278.50" stroke="#333" stroke-width="0.7" />
<line x1="227.10" y1="274.50" x2="228.70" y2="274.50" stroke="#333" stroke-width="0.7" />
<line x1="244.60" y1="355.20" x2="262.20" y2="355.20" stroke="#1a1a1a" stroke-width="1.4" />
<line x1="268.00" y1="355.20" x2="285.00" y2="355.20" stroke="#1a1a1a" stroke-width="1.4" />
<text x="238.10" y="364.70" font-size="8.19" text-anchor="middle" fill="#1e1e1e" textLength="8.68" lengthAdjust="spacingAndGlyphs">0h</text>
<text x="253.40" y="364.70" font-size="8.19" text-anchor="middle" fill="#1e1e1e" textLength="8.68" lengthAdjust="spacingAndGlyphs">2h</text>
<text x="276.50" y="364.70" font-size="8.19" text-anchor="middle" fill="#1e1e1e" textLength="8.68" lengthAdjust="spacingAndGlyphs">6h</text>
<text x="0" y="0" font-size="9.6" font-weight="bold" fill="#1e1e1e" style="stroke-width:0.45px" transform="translate(23.00,209.60) rotate(-90)" textLength="6.0" lengthAdjust="spacingAndGlyphs">#</text>
<text x="0" y="0" font-size="9.6" font-weight="bold" fill="#1e1e1e" style="stroke-width:0.45px" transform="translate(23.00,202.20) rotate(-90)" textLength="16.0" lengthAdjust="spacingAndGlyphs">CFSE</text>
<text x="0" y="0" font-size="6.0" font-weight="normal" fill="#1e1e1e" style="stroke-width:0.45px" transform="translate(19.60,185.80) rotate(-90)">+</text>
<text x="0" y="0" font-size="9.6" font-weight="bold" fill="#1e1e1e" style="stroke-width:0.45px" transform="translate(23.00,331.50) rotate(-90)" textLength="6.0" lengthAdjust="spacingAndGlyphs">#</text>
<text x="0" y="0" font-size="9.6" font-weight="bold" fill="#1e1e1e" style="stroke-width:0.45px" transform="translate(23.00,324.60) rotate(-90)" textLength="36.0" lengthAdjust="spacingAndGlyphs">Endogenous</text>
<line x1="53.50" y1="186.30" x2="53.50" y2="188.60" stroke="#333" stroke-width="0.9" />
<line x1="51.25" y1="186.50" x2="55.05" y2="186.50" stroke="#333" stroke-width="1.0" />
<rect x="49.70" y="188.60" width="6.90" height="6.10" fill="#d2d2d2" stroke="#b5b5b5" stroke-width="0.8"/>
<line x1="50.00" y1="191.20" x2="56.30" y2="191.20" stroke="#333" stroke-width="1.4" />
<line x1="63.50" y1="196.50" x2="63.50" y2="199.40" stroke="#333" stroke-width="0.9" />
<line x1="62.05" y1="199.50" x2="65.85" y2="199.50" stroke="#333" stroke-width="1.0" />
<rect x="60.50" y="190.00" width="6.90" height="6.50" fill="#1f2856" stroke="#151b3c" stroke-width="0.8"/>
<line x1="60.80" y1="190.60" x2="67.10" y2="190.60" stroke="#161c3e" stroke-width="1.4" />
<rect x="71.00" y="200.50" width="7.40" height="1.70" fill="#951226" stroke="#6e0c1b" stroke-width="0.8"/>
<line x1="71.30" y1="201.30" x2="78.10" y2="201.30" stroke="#4a0710" stroke-width="1.4" />
<rect x="82.30" y="184.80" width="6.70" height="5.50" fill="#1f2856" stroke="#151b3c" stroke-width="0.8"/>
<line x1="82.60" y1="187.50" x2="88.70" y2="187.50" stroke="#161c3e" stroke-width="1.4" />
<line x1="96.50" y1="213.90" x2="96.50" y2="221.40" stroke="#333" stroke-width="0.9" />
<line x1="94.48" y1="221.50" x2="98.33" y2="221.50" stroke="#333" stroke-width="1.0" />
<rect x="92.90" y="191.20" width="7.00" height="22.70" fill="#951226" stroke="#6e0c1b" stroke-width="0.8"/>
<line x1="93.20" y1="195.60" x2="99.60" y2="195.60" stroke="#4a0710" stroke-width="1.4" />
<line x1="56.00" y1="156.50" x2="76.70" y2="156.50" stroke="#1a1a1a" stroke-width="1.4" />
<text x="66.35" y="155.30" font-size="7" text-anchor="middle" font-weight="normal" fill="#1e1e1e" ></text>
<path d="M66.30,150.95L66.30,153.45M65.22,151.57L67.38,152.82M67.38,151.57L65.22,152.82" stroke="#151515" stroke-width="0.95" fill="none"/>
<line x1="61.20" y1="164.80" x2="74.40" y2="164.80" stroke="#1a1a1a" stroke-width="1.4" />
<text x="67.80" y="163.60" font-size="7" text-anchor="middle" font-weight="normal" fill="#1e1e1e" ></text>
<path d="M67.80,158.75L67.80,161.25M66.72,159.38L68.88,160.62M68.88,159.38L66.72,160.62" stroke="#151515" stroke-width="0.95" fill="none"/>
<line x1="85.20" y1="164.80" x2="98.70" y2="164.80" stroke="#1a1a1a" stroke-width="1.4" />
<text x="91.95" y="163.60" font-size="7" text-anchor="middle" font-weight="normal" fill="#1e1e1e" ></text>
<path d="M91.70,158.75L91.70,161.25M90.62,159.38L92.78,160.62M92.78,159.38L90.62,160.62" stroke="#151515" stroke-width="0.95" fill="none"/>
<line x1="144.50" y1="174.00" x2="144.50" y2="176.00" stroke="#333" stroke-width="0.9" />
<line x1="142.15" y1="174.50" x2="145.95" y2="174.50" stroke="#333" stroke-width="1.0" />
<line x1="144.50" y1="183.90" x2="144.50" y2="187.80" stroke="#333" stroke-width="0.9" />
<line x1="142.15" y1="187.50" x2="145.95" y2="187.50" stroke="#333" stroke-width="1.0" />
<rect x="140.60" y="176.00" width="6.90" height="7.90" fill="#d2d2d2" stroke="#b5b5b5" stroke-width="0.8"/>
<line x1="140.90" y1="178.50" x2="147.20" y2="178.50" stroke="#333" stroke-width="1.4" />
<rect x="151.10" y="177.10" width="6.70" height="4.00" fill="#1f2856" stroke="#151b3c" stroke-width="0.8"/>
<line x1="151.40" y1="179.10" x2="157.50" y2="179.10" stroke="#161c3e" stroke-width="1.4" />
<line x1="165.50" y1="183.50" x2="165.50" y2="185.00" stroke="#333" stroke-width="0.9" />
<line x1="163.51" y1="183.50" x2="167.19" y2="183.50" stroke="#333" stroke-width="1.0" />
<rect x="162.00" y="185.00" width="6.70" height="4.40" fill="#951226" stroke="#6e0c1b" stroke-width="0.8"/>
<line x1="162.30" y1="187.00" x2="168.40" y2="187.00" stroke="#4a0710" stroke-width="1.4" />
<line x1="176.50" y1="168.60" x2="176.50" y2="170.20" stroke="#333" stroke-width="0.9" />
<line x1="174.41" y1="168.50" x2="178.09" y2="168.50" stroke="#333" stroke-width="1.0" />
<rect x="172.90" y="170.20" width="6.70" height="5.70" fill="#1f2856" stroke="#151b3c" stroke-width="0.8"/>
<line x1="173.20" y1="172.60" x2="179.30" y2="172.60" stroke="#161c3e" stroke-width="1.4" />
<line x1="187.50" y1="206.20" x2="187.50" y2="216.10" stroke="#333" stroke-width="0.9" />
<line x1="185.29" y1="216.50" x2="189.41" y2="216.50" stroke="#333" stroke-width="1.0" />
<rect x="183.60" y="175.10" width="7.50" height="31.10" fill="#951226" stroke="#6e0c1b" stroke-width="0.8"/>
<line x1="183.90" y1="183.00" x2="190.80" y2="183.00" stroke="#4a0710" stroke-width="1.4" />
<line x1="234.50" y1="181.00" x2="234.50" y2="184.50" stroke="#333" stroke-width="0.9" />
<line x1="233.06" y1="181.50" x2="236.64" y2="181.50" stroke="#333" stroke-width="1.0" />
<line x1="234.50" y1="193.40" x2="234.50" y2="197.30" stroke="#333" stroke-width="0.9" />
<line x1="233.06" y1="197.50" x2="236.64" y2="197.50" stroke="#333" stroke-width="1.0" />
<rect x="231.60" y="184.50" width="6.50" height="8.90" fill="#d2d2d2" stroke="#b5b5b5" stroke-width="0.8"/>
<line x1="231.90" y1="188.60" x2="237.80" y2="188.60" stroke="#333" stroke-width="1.4" />
<rect x="241.90" y="187.40" width="6.50" height="3.60" fill="#1f2856" stroke="#151b3c" stroke-width="0.8"/>
<line x1="242.20" y1="189.00" x2="248.10" y2="189.00" stroke="#161c3e" stroke-width="1.4" />
<line x1="256.50" y1="195.00" x2="256.50" y2="196.30" stroke="#333" stroke-width="0.9" />
<line x1="254.51" y1="195.50" x2="258.19" y2="195.50" stroke="#333" stroke-width="1.0" />
<rect x="253.00" y="196.30" width="6.70" height="7.60" fill="#951226" stroke="#6e0c1b" stroke-width="0.8"/>
<line x1="253.30" y1="199.70" x2="259.40" y2="199.70" stroke="#4a0710" stroke-width="1.4" />
<line x1="267.50" y1="179.10" x2="267.50" y2="181.00" stroke="#333" stroke-width="0.9" />
<line x1="265.30" y1="179.50" x2="269.20" y2="179.50" stroke="#333" stroke-width="1.0" />
<rect x="263.70" y="181.00" width="7.10" height="11.40" fill="#1f2856" stroke="#151b3c" stroke-width="0.8"/>
<line x1="264.00" y1="187.00" x2="270.50" y2="187.00" stroke="#161c3e" stroke-width="1.4" />
<line x1="278.50" y1="221.50" x2="278.50" y2="233.00" stroke="#333" stroke-width="0.9" />
<line x1="276.31" y1="233.50" x2="279.99" y2="233.50" stroke="#333" stroke-width="1.0" />
<rect x="274.80" y="185.80" width="6.70" height="35.70" fill="#951226" stroke="#6e0c1b" stroke-width="0.8"/>
<line x1="275.10" y1="193.40" x2="281.20" y2="193.40" stroke="#4a0710" stroke-width="1.4" />
<line x1="244.50" y1="164.00" x2="257.70" y2="164.00" stroke="#1a1a1a" stroke-width="1.4" />
<text x="251.10" y="162.80" font-size="7" text-anchor="middle" font-weight="normal" fill="#1e1e1e" ></text>
<path d="M251.40,158.75L251.40,161.25M250.32,159.38L252.48,160.62M252.48,159.38L250.32,160.62" stroke="#151515" stroke-width="0.95" fill="none"/>
<line x1="52.50" y1="308.00" x2="52.50" y2="309.00" stroke="#333" stroke-width="0.9" />
<line x1="50.58" y1="308.50" x2="54.42" y2="308.50" stroke="#333" stroke-width="1.0" />
<line x1="52.50" y1="313.20" x2="52.50" y2="314.50" stroke="#333" stroke-width="0.9" />
<line x1="50.58" y1="314.50" x2="54.42" y2="314.50" stroke="#333" stroke-width="1.0" />
<rect x="49.00" y="309.00" width="7.00" height="4.20" fill="#d2d2d2" stroke="#b5b5b5" stroke-width="0.8"/>
<line x1="49.30" y1="311.00" x2="55.70" y2="311.00" stroke="#333" stroke-width="1.4" />
<line x1="63.50" y1="318.90" x2="63.50" y2="322.30" stroke="#333" stroke-width="0.9" />
<line x1="61.88" y1="322.50" x2="65.72" y2="322.50" stroke="#333" stroke-width="1.0" />
<rect x="60.30" y="310.40" width="7.00" height="8.50" fill="#1f2856" stroke="#151b3c" stroke-width="0.8"/>
<line x1="60.60" y1="313.50" x2="67.00" y2="313.50" stroke="#161c3e" stroke-width="1.4" />
<rect x="70.20" y="317.40" width="7.40" height="2.80" fill="#951226" stroke="#6e0c1b" stroke-width="0.8"/>
<line x1="70.50" y1="318.80" x2="77.30" y2="318.80" stroke="#4a0710" stroke-width="1.4" />
<rect x="81.40" y="309.60" width="7.00" height="1.40" fill="#1f2856" stroke="#151b3c" stroke-width="0.8"/>
<line x1="81.70" y1="310.30" x2="88.10" y2="310.30" stroke="#161c3e" stroke-width="1.4" />
<line x1="96.50" y1="328.60" x2="96.50" y2="333.70" stroke="#333" stroke-width="0.9" />
<line x1="94.32" y1="333.50" x2="98.28" y2="333.50" stroke="#333" stroke-width="1.0" />
<rect x="92.70" y="312.10" width="7.20" height="16.50" fill="#951226" stroke="#6e0c1b" stroke-width="0.8"/>
<line x1="93.00" y1="318.00" x2="99.60" y2="318.00" stroke="#4a0710" stroke-width="1.4" />
<line x1="54.00" y1="268.80" x2="97.70" y2="268.80" stroke="#1a1a1a" stroke-width="1.4" />
<text x="75.85" y="267.60" font-size="7" text-anchor="middle" font-weight="normal" fill="#1e1e1e" ></text>
<path d="M75.10,263.25L75.10,265.75M74.02,263.88L76.18,265.12M76.18,263.88L74.02,265.12" stroke="#151515" stroke-width="0.95" fill="none"/>
<line x1="54.00" y1="277.20" x2="74.40" y2="277.20" stroke="#1a1a1a" stroke-width="1.4" />
<text x="64.20" y="276.00" font-size="7" text-anchor="middle" font-weight="normal" fill="#1e1e1e" ></text>
<path d="M64.30,271.65L64.30,274.15M63.22,272.27L65.38,273.52M65.38,272.27L63.22,273.52" stroke="#151515" stroke-width="0.95" fill="none"/>
<line x1="84.60" y1="286.70" x2="98.40" y2="286.70" stroke="#1a1a1a" stroke-width="1.4" />
<text x="91.50" y="285.50" font-size="7" text-anchor="middle" font-weight="normal" fill="#1e1e1e" ></text>
<path d="M91.40,281.25L91.40,283.75M90.32,281.88L92.48,283.12M92.48,281.88L90.32,283.12" stroke="#151515" stroke-width="0.95" fill="none"/>
<line x1="143.50" y1="299.60" x2="143.50" y2="300.90" stroke="#333" stroke-width="0.9" />
<line x1="141.75" y1="299.50" x2="145.55" y2="299.50" stroke="#333" stroke-width="1.0" />
<line x1="143.50" y1="309.50" x2="143.50" y2="318.00" stroke="#333" stroke-width="0.9" />
<line x1="141.75" y1="318.50" x2="145.55" y2="318.50" stroke="#333" stroke-width="1.0" />
<rect x="140.20" y="300.90" width="6.90" height="8.60" fill="#d2d2d2" stroke="#b5b5b5" stroke-width="0.8"/>
<line x1="140.50" y1="304.50" x2="146.80" y2="304.50" stroke="#333" stroke-width="1.4" />
<line x1="154.50" y1="299.60" x2="154.50" y2="302.10" stroke="#333" stroke-width="0.9" />
<line x1="152.61" y1="299.50" x2="156.29" y2="299.50" stroke="#333" stroke-width="1.0" />
<line x1="154.50" y1="314.00" x2="154.50" y2="315.40" stroke="#333" stroke-width="0.9" />
<line x1="152.61" y1="315.50" x2="156.29" y2="315.50" stroke="#333" stroke-width="1.0" />
<rect x="151.10" y="302.10" width="6.70" height="11.90" fill="#1f2856" stroke="#151b3c" stroke-width="0.8"/>
<line x1="151.40" y1="308.50" x2="157.50" y2="308.50" stroke="#161c3e" stroke-width="1.4" />
<rect x="161.80" y="308.50" width="6.90" height="5.30" fill="#951226" stroke="#6e0c1b" stroke-width="0.8"/>
<line x1="162.10" y1="311.00" x2="168.40" y2="311.00" stroke="#4a0710" stroke-width="1.4" />
<rect x="172.90" y="294.60" width="6.70" height="7.30" fill="#1f2856" stroke="#151b3c" stroke-width="0.8"/>
<line x1="173.20" y1="298.20" x2="179.30" y2="298.20" stroke="#161c3e" stroke-width="1.4" />
<line x1="187.50" y1="300.00" x2="187.50" y2="302.50" stroke="#333" stroke-width="0.9" />
<line x1="185.29" y1="300.50" x2="189.41" y2="300.50" stroke="#333" stroke-width="1.0" />
<line x1="187.50" y1="323.90" x2="187.50" y2="327.90" stroke="#333" stroke-width="0.9" />
<line x1="185.29" y1="327.50" x2="189.41" y2="327.50" stroke="#333" stroke-width="1.0" />
<rect x="183.60" y="302.50" width="7.50" height="21.40" fill="#951226" stroke="#6e0c1b" stroke-width="0.8"/>
<line x1="183.90" y1="311.40" x2="190.80" y2="311.40" stroke="#4a0710" stroke-width="1.4" />
<line x1="176.20" y1="285.70" x2="190.10" y2="285.70" stroke="#1a1a1a" stroke-width="1.4" />
<text x="183.15" y="284.50" font-size="7" text-anchor="middle" font-weight="normal" fill="#1e1e1e" ></text>
<path d="M184.20,279.75L184.20,282.25M183.12,280.38L185.28,281.62M185.28,280.38L183.12,281.62" stroke="#151515" stroke-width="0.95" fill="none"/>
<line x1="234.50" y1="314.80" x2="234.50" y2="316.80" stroke="#333" stroke-width="0.9" />
<line x1="233.06" y1="314.50" x2="236.64" y2="314.50" stroke="#333" stroke-width="1.0" />
<line x1="234.50" y1="322.30" x2="234.50" y2="327.30" stroke="#333" stroke-width="0.9" />
<line x1="233.06" y1="327.50" x2="236.64" y2="327.50" stroke="#333" stroke-width="1.0" />
<rect x="231.60" y="316.80" width="6.50" height="5.50" fill="#d2d2d2" stroke="#b5b5b5" stroke-width="0.8"/>
<line x1="231.90" y1="320.00" x2="237.80" y2="320.00" stroke="#333" stroke-width="1.4" />
<line x1="245.50" y1="317.40" x2="245.50" y2="319.40" stroke="#333" stroke-width="0.9" />
<line x1="243.45" y1="317.50" x2="247.25" y2="317.50" stroke="#333" stroke-width="1.0" />
<rect x="241.90" y="319.40" width="6.90" height="7.30" fill="#1f2856" stroke="#151b3c" stroke-width="0.8"/>
<line x1="242.20" y1="323.30" x2="248.50" y2="323.30" stroke="#161c3e" stroke-width="1.4" />
<line x1="256.50" y1="320.30" x2="256.50" y2="322.30" stroke="#333" stroke-width="0.9" />
<line x1="254.51" y1="320.50" x2="258.19" y2="320.50" stroke="#333" stroke-width="1.0" />
<line x1="256.50" y1="331.20" x2="256.50" y2="332.20" stroke="#333" stroke-width="0.9" />
<line x1="254.51" y1="332.50" x2="258.19" y2="332.50" stroke="#333" stroke-width="1.0" />
<rect x="253.00" y="322.30" width="6.70" height="8.90" fill="#951226" stroke="#6e0c1b" stroke-width="0.8"/>
<line x1="253.30" y1="326.30" x2="259.40" y2="326.30" stroke="#4a0710" stroke-width="1.4" />
<line x1="267.50" y1="312.00" x2="267.50" y2="313.40" stroke="#333" stroke-width="0.9" />
<line x1="265.30" y1="312.50" x2="269.20" y2="312.50" stroke="#333" stroke-width="1.0" />
<rect x="263.70" y="313.40" width="7.10" height="4.00" fill="#1f2856" stroke="#151b3c" stroke-width="0.8"/>
<line x1="264.00" y1="315.40" x2="270.50" y2="315.40" stroke="#161c3e" stroke-width="1.4" />
<line x1="278.50" y1="318.00" x2="278.50" y2="320.30" stroke="#333" stroke-width="0.9" />
<line x1="276.31" y1="318.50" x2="279.99" y2="318.50" stroke="#333" stroke-width="1.0" />
<line x1="278.50" y1="341.70" x2="278.50" y2="346.10" stroke="#333" stroke-width="0.9" />
<line x1="276.31" y1="346.50" x2="279.99" y2="346.50" stroke="#333" stroke-width="1.0" />
<rect x="274.80" y="320.30" width="6.70" height="21.40" fill="#951226" stroke="#6e0c1b" stroke-width="0.8"/>
<line x1="275.10" y1="330.60" x2="281.20" y2="330.60" stroke="#4a0710" stroke-width="1.4" />
<rect x="111.2" y="373.9" width="6.4" height="6.2" fill="#c2c2c2"/>
<text x="120.60" y="379.90" font-size="7.6" text-anchor="start" font-weight="normal" fill="#1e1e1e" style="stroke-width:0.15px">Untreated</text>
<rect x="161.8" y="373.9" width="6.4" height="6.2" fill="#1f2856"/>
<text x="170.60" y="379.90" font-size="7.6" text-anchor="start" font-weight="normal" fill="#1e1e1e" style="stroke-width:0.15px">DMSO</text>
<rect x="204.5" y="373.9" width="6.4" height="6.2" fill="#951226"/>
<text x="213.60" y="379.90" font-size="7.6" text-anchor="start" font-weight="normal" fill="#1e1e1e" style="stroke-width:0.15px">Dasa</text>
<text x="362.60" y="143.80" font-size="10" text-anchor="middle" fill="#1e1e1e">B220<tspan font-size="5.50" dy="-4.00">+</tspan></text>
<text x="433.60" y="143.80" font-size="10" text-anchor="middle" fill="#1e1e1e">CD4<tspan font-size="5.50" dy="-4.00">+</tspan></text>
<text x="502.90" y="143.80" font-size="10" text-anchor="middle" fill="#1e1e1e">CD8<tspan font-size="5.50" dy="-4.00">+</tspan></text>
<line x1="346.90" y1="155.40" x2="346.90" y2="238.80" stroke="#1a1a1a" stroke-width="1.5" />
<line x1="346.20" y1="238.10" x2="380.30" y2="238.10" stroke="#1a1a1a" stroke-width="1.5" />
<line x1="343.90" y1="158.50" x2="346.90" y2="158.50" stroke="#222" stroke-width="1.0" />
<text x="340.50" y="161.00" font-size="7.9" text-anchor="end" font-weight="normal" fill="#1e1e1e" >150</text>
<line x1="343.90" y1="185.50" x2="346.90" y2="185.50" stroke="#222" stroke-width="1.0" />
<text x="340.50" y="187.60" font-size="7.9" text-anchor="end" font-weight="normal" fill="#1e1e1e" >100</text>
<line x1="343.90" y1="211.50" x2="346.90" y2="211.50" stroke="#222" stroke-width="1.0" />
<text x="340.50" y="214.20" font-size="7.9" text-anchor="end" font-weight="normal" fill="#1e1e1e" >50</text>
<line x1="343.90" y1="238.50" x2="346.90" y2="238.50" stroke="#222" stroke-width="1.0" />
<text x="340.50" y="240.70" font-size="7.9" text-anchor="end" font-weight="normal" fill="#1e1e1e" >0</text>
<line x1="346.90" y1="185.00" x2="380.30" y2="185.00" stroke="#141414" stroke-width="1.4" stroke-dasharray="2.2,1.5"/>
<text x="355.20" y="248.20" font-size="8.19" text-anchor="middle" fill="#1e1e1e" textLength="8.68" lengthAdjust="spacingAndGlyphs">2h</text>
<text x="371.70" y="248.20" font-size="8.19" text-anchor="middle" fill="#1e1e1e" textLength="8.68" lengthAdjust="spacingAndGlyphs">6h</text>
<line x1="416.80" y1="155.40" x2="416.80" y2="238.80" stroke="#1a1a1a" stroke-width="1.5" />
<line x1="416.10" y1="238.10" x2="449.50" y2="238.10" stroke="#1a1a1a" stroke-width="1.5" />
<line x1="413.80" y1="158.50" x2="416.80" y2="158.50" stroke="#222" stroke-width="1.0" />
<text x="410.40" y="161.00" font-size="7.9" text-anchor="end" font-weight="normal" fill="#1e1e1e" >150</text>
<line x1="413.80" y1="185.50" x2="416.80" y2="185.50" stroke="#222" stroke-width="1.0" />
<text x="410.40" y="187.60" font-size="7.9" text-anchor="end" font-weight="normal" fill="#1e1e1e" >100</text>
<line x1="413.80" y1="211.50" x2="416.80" y2="211.50" stroke="#222" stroke-width="1.0" />
<text x="410.40" y="214.20" font-size="7.9" text-anchor="end" font-weight="normal" fill="#1e1e1e" >50</text>
<line x1="413.80" y1="238.50" x2="416.80" y2="238.50" stroke="#222" stroke-width="1.0" />
<text x="410.40" y="240.70" font-size="7.9" text-anchor="end" font-weight="normal" fill="#1e1e1e" >0</text>
<line x1="416.80" y1="185.00" x2="449.50" y2="185.00" stroke="#141414" stroke-width="1.4" stroke-dasharray="2.2,1.5"/>
<text x="425.10" y="248.20" font-size="8.19" text-anchor="middle" fill="#1e1e1e" textLength="8.68" lengthAdjust="spacingAndGlyphs">2h</text>
<text x="441.60" y="248.20" font-size="8.19" text-anchor="middle" fill="#1e1e1e" textLength="8.68" lengthAdjust="spacingAndGlyphs">6h</text>
<line x1="486.70" y1="155.40" x2="486.70" y2="238.80" stroke="#1a1a1a" stroke-width="1.5" />
<line x1="486.00" y1="238.10" x2="520.50" y2="238.10" stroke="#1a1a1a" stroke-width="1.5" />
<line x1="483.70" y1="158.50" x2="486.70" y2="158.50" stroke="#222" stroke-width="1.0" />
<text x="480.30" y="161.00" font-size="7.9" text-anchor="end" font-weight="normal" fill="#1e1e1e" >150</text>
<line x1="483.70" y1="185.50" x2="486.70" y2="185.50" stroke="#222" stroke-width="1.0" />
<text x="480.30" y="187.60" font-size="7.9" text-anchor="end" font-weight="normal" fill="#1e1e1e" >100</text>
<line x1="483.70" y1="211.50" x2="486.70" y2="211.50" stroke="#222" stroke-width="1.0" />
<text x="480.30" y="214.20" font-size="7.9" text-anchor="end" font-weight="normal" fill="#1e1e1e" >50</text>
<line x1="483.70" y1="238.50" x2="486.70" y2="238.50" stroke="#222" stroke-width="1.0" />
<text x="480.30" y="240.70" font-size="7.9" text-anchor="end" font-weight="normal" fill="#1e1e1e" >0</text>
<line x1="486.70" y1="185.00" x2="520.50" y2="185.00" stroke="#141414" stroke-width="1.4" stroke-dasharray="2.2,1.5"/>
<text x="495.00" y="248.20" font-size="8.19" text-anchor="middle" fill="#1e1e1e" textLength="8.68" lengthAdjust="spacingAndGlyphs">2h</text>
<text x="511.50" y="248.20" font-size="8.19" text-anchor="middle" fill="#1e1e1e" textLength="8.68" lengthAdjust="spacingAndGlyphs">6h</text>
<line x1="346.90" y1="270.60" x2="346.90" y2="352.90" stroke="#1a1a1a" stroke-width="1.5" />
<line x1="346.20" y1="352.20" x2="380.30" y2="352.20" stroke="#1a1a1a" stroke-width="1.5" />
<line x1="343.90" y1="273.50" x2="346.90" y2="273.50" stroke="#222" stroke-width="1.0" />
<text x="340.50" y="275.90" font-size="7.9" text-anchor="end" font-weight="normal" fill="#1e1e1e" >150</text>
<line x1="343.90" y1="299.50" x2="346.90" y2="299.50" stroke="#222" stroke-width="1.0" />
<text x="340.50" y="302.40" font-size="7.9" text-anchor="end" font-weight="normal" fill="#1e1e1e" >100</text>
<line x1="343.90" y1="326.50" x2="346.90" y2="326.50" stroke="#222" stroke-width="1.0" />
<text x="340.50" y="328.80" font-size="7.9" text-anchor="end" font-weight="normal" fill="#1e1e1e" >50</text>
<line x1="343.90" y1="352.50" x2="346.90" y2="352.50" stroke="#222" stroke-width="1.0" />
<text x="340.50" y="354.80" font-size="7.9" text-anchor="end" font-weight="normal" fill="#1e1e1e" >0</text>
<line x1="346.90" y1="299.80" x2="380.30" y2="299.80" stroke="#141414" stroke-width="1.4" stroke-dasharray="2.2,1.5"/>
<text x="355.20" y="362.60" font-size="8.19" text-anchor="middle" fill="#1e1e1e" textLength="8.68" lengthAdjust="spacingAndGlyphs">2h</text>
<text x="371.70" y="362.60" font-size="8.19" text-anchor="middle" fill="#1e1e1e" textLength="8.68" lengthAdjust="spacingAndGlyphs">6h</text>
<line x1="416.80" y1="270.60" x2="416.80" y2="352.90" stroke="#1a1a1a" stroke-width="1.5" />
<line x1="416.10" y1="352.20" x2="449.50" y2="352.20" stroke="#1a1a1a" stroke-width="1.5" />
<line x1="413.80" y1="273.50" x2="416.80" y2="273.50" stroke="#222" stroke-width="1.0" />
<text x="410.40" y="275.90" font-size="7.9" text-anchor="end" font-weight="normal" fill="#1e1e1e" >150</text>
<line x1="413.80" y1="299.50" x2="416.80" y2="299.50" stroke="#222" stroke-width="1.0" />
<text x="410.40" y="302.40" font-size="7.9" text-anchor="end" font-weight="normal" fill="#1e1e1e" >100</text>
<line x1="413.80" y1="326.50" x2="416.80" y2="326.50" stroke="#222" stroke-width="1.0" />
<text x="410.40" y="328.80" font-size="7.9" text-anchor="end" font-weight="normal" fill="#1e1e1e" >50</text>
<line x1="413.80" y1="352.50" x2="416.80" y2="352.50" stroke="#222" stroke-width="1.0" />
<text x="410.40" y="354.80" font-size="7.9" text-anchor="end" font-weight="normal" fill="#1e1e1e" >0</text>
<line x1="416.80" y1="299.80" x2="449.50" y2="299.80" stroke="#141414" stroke-width="1.4" stroke-dasharray="2.2,1.5"/>
<text x="425.10" y="362.60" font-size="8.19" text-anchor="middle" fill="#1e1e1e" textLength="8.68" lengthAdjust="spacingAndGlyphs">2h</text>
<text x="441.60" y="362.60" font-size="8.19" text-anchor="middle" fill="#1e1e1e" textLength="8.68" lengthAdjust="spacingAndGlyphs">6h</text>
<line x1="486.70" y1="270.60" x2="486.70" y2="352.90" stroke="#1a1a1a" stroke-width="1.5" />
<line x1="486.00" y1="352.20" x2="520.50" y2="352.20" stroke="#1a1a1a" stroke-width="1.5" />
<line x1="483.70" y1="273.50" x2="486.70" y2="273.50" stroke="#222" stroke-width="1.0" />
<text x="480.30" y="275.90" font-size="7.9" text-anchor="end" font-weight="normal" fill="#1e1e1e" >150</text>
<line x1="483.70" y1="299.50" x2="486.70" y2="299.50" stroke="#222" stroke-width="1.0" />
<text x="480.30" y="302.40" font-size="7.9" text-anchor="end" font-weight="normal" fill="#1e1e1e" >100</text>
<line x1="483.70" y1="326.50" x2="486.70" y2="326.50" stroke="#222" stroke-width="1.0" />
<text x="480.30" y="328.80" font-size="7.9" text-anchor="end" font-weight="normal" fill="#1e1e1e" >50</text>
<line x1="483.70" y1="352.50" x2="486.70" y2="352.50" stroke="#222" stroke-width="1.0" />
<text x="480.30" y="354.80" font-size="7.9" text-anchor="end" font-weight="normal" fill="#1e1e1e" >0</text>
<line x1="486.70" y1="299.80" x2="520.50" y2="299.80" stroke="#141414" stroke-width="1.4" stroke-dasharray="2.2,1.5"/>
<text x="495.00" y="362.60" font-size="8.19" text-anchor="middle" fill="#1e1e1e" textLength="8.68" lengthAdjust="spacingAndGlyphs">2h</text>
<text x="511.50" y="362.60" font-size="8.19" text-anchor="middle" fill="#1e1e1e" textLength="8.68" lengthAdjust="spacingAndGlyphs">6h</text>
<text x="0" y="0" font-size="9.4" text-anchor="middle" font-weight="bold" fill="#1e1e1e" style="stroke-width:0.45px" transform="translate(321.10,199.00) rotate(-90)" textLength="64" lengthAdjust="spacingAndGlyphs">CFSE<tspan font-size="5.17" dy="-3.76">+</tspan><tspan dy="3.76"> (% of control)</tspan></text>
<text x="0" y="0" font-size="8.6" text-anchor="middle" font-weight="bold" fill="#1e1e1e" style="stroke-width:0.45px" transform="translate(321.00,311.00) rotate(-90)" textLength="80" lengthAdjust="spacingAndGlyphs">Endogenous (% of control)</text>
<rect x="350.30" y="211.20" width="10.80" height="4.80" fill="#951226" stroke="#6e0c1b" stroke-width="0.8"/>
<line x1="350.60" y1="213.60" x2="360.80" y2="213.60" stroke="#4a0710" stroke-width="1.4" />
<line x1="371.50" y1="232.80" x2="371.50" y2="235.20" stroke="#333" stroke-width="0.9" />
<line x1="368.99" y1="235.50" x2="374.81" y2="235.50" stroke="#333" stroke-width="1.0" />
<rect x="366.60" y="198.70" width="10.60" height="34.10" fill="#951226" stroke="#6e0c1b" stroke-width="0.8"/>
<line x1="366.90" y1="213.00" x2="376.90" y2="213.00" stroke="#4a0710" stroke-width="1.4" />
<path d="M353.70,172.85L353.70,175.35M352.62,173.47L354.78,174.72M354.78,173.47L352.62,174.72M356.70,172.85L356.70,175.35M355.62,173.47L357.78,174.72M357.78,173.47L355.62,174.72M359.70,172.85L359.70,175.35M358.62,173.47L360.78,174.72M360.78,173.47L358.62,174.72M362.70,172.85L362.70,175.35M361.62,173.47L363.78,174.72M363.78,173.47L361.62,174.72" stroke="#151515" stroke-width="0.95" fill="none"/>
<path d="M371.80,172.85L371.80,175.35M370.72,173.47L372.88,174.72M372.88,173.47L370.72,174.72" stroke="#151515" stroke-width="0.95" fill="none"/>
<line x1="425.50" y1="196.60" x2="425.50" y2="199.90" stroke="#333" stroke-width="0.9" />
<line x1="422.23" y1="196.50" x2="428.17" y2="196.50" stroke="#333" stroke-width="1.0" />
<rect x="419.80" y="199.90" width="10.80" height="9.10" fill="#951226" stroke="#6e0c1b" stroke-width="0.8"/>
<line x1="420.10" y1="208.50" x2="430.30" y2="208.50" stroke="#4a0710" stroke-width="1.4" />
<line x1="441.50" y1="188.30" x2="441.50" y2="189.60" stroke="#333" stroke-width="0.9" />
<line x1="438.82" y1="188.50" x2="444.48" y2="188.50" stroke="#333" stroke-width="1.0" />
<line x1="441.50" y1="229.50" x2="441.50" y2="233.20" stroke="#333" stroke-width="0.9" />
<line x1="438.82" y1="233.50" x2="444.48" y2="233.50" stroke="#333" stroke-width="1.0" />
<rect x="436.50" y="189.60" width="10.30" height="39.90" fill="#951226" stroke="#6e0c1b" stroke-width="0.8"/>
<line x1="436.80" y1="206.30" x2="446.50" y2="206.30" stroke="#4a0710" stroke-width="1.4" />
<line x1="494.50" y1="199.90" x2="494.50" y2="201.70" stroke="#333" stroke-width="0.9" />
<line x1="492.13" y1="199.50" x2="497.57" y2="199.50" stroke="#333" stroke-width="1.0" />
<line x1="494.50" y1="213.90" x2="494.50" y2="215.20" stroke="#333" stroke-width="0.9" />
<line x1="492.13" y1="215.50" x2="497.57" y2="215.50" stroke="#333" stroke-width="1.0" />
<rect x="489.90" y="201.70" width="9.90" height="12.20" fill="#951226" stroke="#6e0c1b" stroke-width="0.8"/>
<line x1="490.20" y1="209.00" x2="499.50" y2="209.00" stroke="#4a0710" stroke-width="1.4" />
<line x1="511.50" y1="230.50" x2="511.50" y2="234.00" stroke="#333" stroke-width="0.9" />
<line x1="508.43" y1="234.50" x2="514.37" y2="234.50" stroke="#333" stroke-width="1.0" />
<rect x="506.00" y="183.70" width="10.80" height="46.80" fill="#951226" stroke="#6e0c1b" stroke-width="0.8"/>
<line x1="506.30" y1="203.60" x2="516.50" y2="203.60" stroke="#4a0710" stroke-width="1.4" />
<path d="M495.60,166.85L495.60,169.35M494.52,167.47L496.68,168.72M496.68,167.47L494.52,168.72M498.60,166.85L498.60,169.35M497.52,167.47L499.68,168.72M499.68,167.47L497.52,168.72" stroke="#151515" stroke-width="0.95" fill="none"/>
<line x1="355.50" y1="307.60" x2="355.50" y2="308.90" stroke="#333" stroke-width="0.9" />
<line x1="352.57" y1="307.50" x2="358.13" y2="307.50" stroke="#333" stroke-width="1.0" />
<line x1="355.50" y1="314.90" x2="355.50" y2="316.80" stroke="#333" stroke-width="0.9" />
<line x1="352.57" y1="316.50" x2="358.13" y2="316.50" stroke="#333" stroke-width="1.0" />
<rect x="350.30" y="308.90" width="10.10" height="6.00" fill="#951226" stroke="#6e0c1b" stroke-width="0.8"/>
<line x1="350.60" y1="312.00" x2="360.10" y2="312.00" stroke="#4a0710" stroke-width="1.4" />
<line x1="371.50" y1="304.10" x2="371.50" y2="308.20" stroke="#333" stroke-width="0.9" />
<line x1="368.99" y1="304.50" x2="374.81" y2="304.50" stroke="#333" stroke-width="1.0" />
<line x1="371.50" y1="334.10" x2="371.50" y2="338.50" stroke="#333" stroke-width="0.9" />
<line x1="368.99" y1="338.50" x2="374.81" y2="338.50" stroke="#333" stroke-width="1.0" />
<rect x="366.60" y="308.20" width="10.60" height="25.90" fill="#951226" stroke="#6e0c1b" stroke-width="0.8"/>
<line x1="366.90" y1="319.70" x2="376.90" y2="319.70" stroke="#4a0710" stroke-width="1.4" />
<path d="M353.60,283.65L353.60,286.15M352.52,284.27L354.68,285.52M354.68,284.27L352.52,285.52M356.60,283.65L356.60,286.15M355.52,284.27L357.68,285.52M357.68,284.27L355.52,285.52" stroke="#151515" stroke-width="0.95" fill="none"/>
<rect x="419.80" y="299.40" width="10.80" height="7.60" fill="#951226" stroke="#6e0c1b" stroke-width="0.8"/>
<line x1="420.10" y1="302.90" x2="430.30" y2="302.90" stroke="#4a0710" stroke-width="1.4" />
<line x1="441.50" y1="302.70" x2="441.50" y2="305.30" stroke="#333" stroke-width="0.9" />
<line x1="438.82" y1="302.50" x2="444.48" y2="302.50" stroke="#333" stroke-width="1.0" />
<line x1="441.50" y1="327.20" x2="441.50" y2="329.90" stroke="#333" stroke-width="0.9" />
<line x1="438.82" y1="329.50" x2="444.48" y2="329.50" stroke="#333" stroke-width="1.0" />
<rect x="436.50" y="305.30" width="10.30" height="21.90" fill="#951226" stroke="#6e0c1b" stroke-width="0.8"/>
<line x1="436.80" y1="316.40" x2="446.50" y2="316.40" stroke="#4a0710" stroke-width="1.4" />
<line x1="494.50" y1="295.40" x2="494.50" y2="297.50" stroke="#333" stroke-width="0.9" />
<line x1="491.43" y1="295.50" x2="497.37" y2="295.50" stroke="#333" stroke-width="1.0" />
<line x1="494.50" y1="309.40" x2="494.50" y2="311.00" stroke="#333" stroke-width="0.9" />
<line x1="491.43" y1="311.50" x2="497.37" y2="311.50" stroke="#333" stroke-width="1.0" />
<rect x="489.00" y="297.50" width="10.80" height="11.90" fill="#951226" stroke="#6e0c1b" stroke-width="0.8"/>
<line x1="489.30" y1="304.30" x2="499.50" y2="304.30" stroke="#4a0710" stroke-width="1.4" />
<line x1="511.50" y1="302.10" x2="511.50" y2="305.30" stroke="#333" stroke-width="0.9" />
<line x1="508.43" y1="302.50" x2="514.37" y2="302.50" stroke="#333" stroke-width="1.0" />
<line x1="511.50" y1="327.20" x2="511.50" y2="329.90" stroke="#333" stroke-width="0.9" />
<line x1="508.43" y1="329.50" x2="514.37" y2="329.50" stroke="#333" stroke-width="1.0" />
<rect x="506.00" y="305.30" width="10.80" height="21.90" fill="#951226" stroke="#6e0c1b" stroke-width="0.8"/>
<line x1="506.30" y1="318.30" x2="516.50" y2="318.30" stroke="#4a0710" stroke-width="1.4" />
<line x1="45.60" y1="536.60" x2="45.60" y2="619.20" stroke="#1a1a1a" stroke-width="1.5" />
<line x1="44.90" y1="618.50" x2="79.20" y2="618.50" stroke="#1a1a1a" stroke-width="1.5" />
<line x1="42.60" y1="539.50" x2="45.60" y2="539.50" stroke="#222" stroke-width="1.0" />
<text x="39.20" y="541.90" font-size="7.9" text-anchor="end" font-weight="normal" fill="#1e1e1e" >150</text>
<line x1="42.60" y1="565.50" x2="45.60" y2="565.50" stroke="#222" stroke-width="1.0" />
<text x="39.20" y="568.30" font-size="7.9" text-anchor="end" font-weight="normal" fill="#1e1e1e" >100</text>
<line x1="42.60" y1="592.50" x2="45.60" y2="592.50" stroke="#222" stroke-width="1.0" />
<text x="39.20" y="594.90" font-size="7.9" text-anchor="end" font-weight="normal" fill="#1e1e1e" >50</text>
<line x1="42.60" y1="618.50" x2="45.60" y2="618.50" stroke="#222" stroke-width="1.0" />
<text x="39.20" y="621.10" font-size="7.9" text-anchor="end" font-weight="normal" fill="#1e1e1e" >0</text>
<line x1="45.60" y1="565.70" x2="79.20" y2="565.70" stroke="#141414" stroke-width="1.4" stroke-dasharray="2.2,1.5"/>
<text x="53.90" y="628.50" font-size="8.19" text-anchor="middle" fill="#1e1e1e" textLength="8.68" lengthAdjust="spacingAndGlyphs">2h</text>
<text x="70.50" y="628.50" font-size="8.19" text-anchor="middle" fill="#1e1e1e" textLength="8.68" lengthAdjust="spacingAndGlyphs">6h</text>
<text x="62.10" y="530.40" font-size="9.6" text-anchor="middle" fill="#1e1e1e">B220<tspan font-size="5.28" dy="-3.84">+</tspan></text>
<line x1="115.10" y1="536.60" x2="115.10" y2="619.20" stroke="#1a1a1a" stroke-width="1.5" />
<line x1="114.40" y1="618.50" x2="148.70" y2="618.50" stroke="#1a1a1a" stroke-width="1.5" />
<line x1="112.10" y1="539.50" x2="115.10" y2="539.50" stroke="#222" stroke-width="1.0" />
<text x="108.70" y="541.90" font-size="7.9" text-anchor="end" font-weight="normal" fill="#1e1e1e" >150</text>
<line x1="112.10" y1="565.50" x2="115.10" y2="565.50" stroke="#222" stroke-width="1.0" />
<text x="108.70" y="568.30" font-size="7.9" text-anchor="end" font-weight="normal" fill="#1e1e1e" >100</text>
<line x1="112.10" y1="592.50" x2="115.10" y2="592.50" stroke="#222" stroke-width="1.0" />
<text x="108.70" y="594.90" font-size="7.9" text-anchor="end" font-weight="normal" fill="#1e1e1e" >50</text>
<line x1="112.10" y1="618.50" x2="115.10" y2="618.50" stroke="#222" stroke-width="1.0" />
<text x="108.70" y="621.10" font-size="7.9" text-anchor="end" font-weight="normal" fill="#1e1e1e" >0</text>
<line x1="115.10" y1="565.70" x2="148.70" y2="565.70" stroke="#141414" stroke-width="1.4" stroke-dasharray="2.2,1.5"/>
<text x="123.40" y="628.50" font-size="8.19" text-anchor="middle" fill="#1e1e1e" textLength="8.68" lengthAdjust="spacingAndGlyphs">2h</text>
<text x="140.00" y="628.50" font-size="8.19" text-anchor="middle" fill="#1e1e1e" textLength="8.68" lengthAdjust="spacingAndGlyphs">6h</text>
<text x="132.10" y="530.40" font-size="9.6" text-anchor="middle" fill="#1e1e1e">CD4<tspan font-size="5.28" dy="-3.84">+</tspan></text>
<line x1="185.10" y1="536.60" x2="185.10" y2="619.20" stroke="#1a1a1a" stroke-width="1.5" />
<line x1="184.40" y1="618.50" x2="218.70" y2="618.50" stroke="#1a1a1a" stroke-width="1.5" />
<line x1="182.10" y1="539.50" x2="185.10" y2="539.50" stroke="#222" stroke-width="1.0" />
<text x="178.70" y="541.90" font-size="7.9" text-anchor="end" font-weight="normal" fill="#1e1e1e" >150</text>
<line x1="182.10" y1="565.50" x2="185.10" y2="565.50" stroke="#222" stroke-width="1.0" />
<text x="178.70" y="568.30" font-size="7.9" text-anchor="end" font-weight="normal" fill="#1e1e1e" >100</text>
<line x1="182.10" y1="592.50" x2="185.10" y2="592.50" stroke="#222" stroke-width="1.0" />
<text x="178.70" y="594.90" font-size="7.9" text-anchor="end" font-weight="normal" fill="#1e1e1e" >50</text>
<line x1="182.10" y1="618.50" x2="185.10" y2="618.50" stroke="#222" stroke-width="1.0" />
<text x="178.70" y="621.10" font-size="7.9" text-anchor="end" font-weight="normal" fill="#1e1e1e" >0</text>
<line x1="185.10" y1="565.70" x2="218.70" y2="565.70" stroke="#141414" stroke-width="1.4" stroke-dasharray="2.2,1.5"/>
<text x="193.40" y="628.50" font-size="8.19" text-anchor="middle" fill="#1e1e1e" textLength="8.68" lengthAdjust="spacingAndGlyphs">2h</text>
<text x="210.00" y="628.50" font-size="8.19" text-anchor="middle" fill="#1e1e1e" textLength="8.68" lengthAdjust="spacingAndGlyphs">6h</text>
<text x="201.70" y="530.40" font-size="9.6" text-anchor="middle" fill="#1e1e1e">CD8<tspan font-size="5.28" dy="-3.84">+</tspan></text>
<line x1="300.00" y1="536.60" x2="300.00" y2="619.20" stroke="#1a1a1a" stroke-width="1.5" />
<line x1="299.30" y1="618.50" x2="333.60" y2="618.50" stroke="#1a1a1a" stroke-width="1.5" />
<line x1="297.00" y1="539.50" x2="300.00" y2="539.50" stroke="#222" stroke-width="1.0" />
<text x="293.60" y="541.90" font-size="7.9" text-anchor="end" font-weight="normal" fill="#1e1e1e" >150</text>
<line x1="297.00" y1="565.50" x2="300.00" y2="565.50" stroke="#222" stroke-width="1.0" />
<text x="293.60" y="568.30" font-size="7.9" text-anchor="end" font-weight="normal" fill="#1e1e1e" >100</text>
<line x1="297.00" y1="592.50" x2="300.00" y2="592.50" stroke="#222" stroke-width="1.0" />
<text x="293.60" y="594.90" font-size="7.9" text-anchor="end" font-weight="normal" fill="#1e1e1e" >50</text>
<line x1="297.00" y1="618.50" x2="300.00" y2="618.50" stroke="#222" stroke-width="1.0" />
<text x="293.60" y="621.10" font-size="7.9" text-anchor="end" font-weight="normal" fill="#1e1e1e" >0</text>
<line x1="300.00" y1="565.70" x2="333.60" y2="565.70" stroke="#141414" stroke-width="1.4" stroke-dasharray="2.2,1.5"/>
<text x="308.30" y="628.50" font-size="8.19" text-anchor="middle" fill="#1e1e1e" textLength="8.68" lengthAdjust="spacingAndGlyphs">2h</text>
<text x="324.90" y="628.50" font-size="8.19" text-anchor="middle" fill="#1e1e1e" textLength="8.68" lengthAdjust="spacingAndGlyphs">6h</text>
<text x="316.30" y="530.40" font-size="9.6" text-anchor="middle" fill="#1e1e1e">B220<tspan font-size="5.28" dy="-3.84">+</tspan></text>
<line x1="370.00" y1="536.60" x2="370.00" y2="619.20" stroke="#1a1a1a" stroke-width="1.5" />
<line x1="369.30" y1="618.50" x2="403.60" y2="618.50" stroke="#1a1a1a" stroke-width="1.5" />
<line x1="367.00" y1="539.50" x2="370.00" y2="539.50" stroke="#222" stroke-width="1.0" />
<text x="363.60" y="541.90" font-size="7.9" text-anchor="end" font-weight="normal" fill="#1e1e1e" >150</text>
<line x1="367.00" y1="565.50" x2="370.00" y2="565.50" stroke="#222" stroke-width="1.0" />
<text x="363.60" y="568.30" font-size="7.9" text-anchor="end" font-weight="normal" fill="#1e1e1e" >100</text>
<line x1="367.00" y1="592.50" x2="370.00" y2="592.50" stroke="#222" stroke-width="1.0" />
<text x="363.60" y="594.90" font-size="7.9" text-anchor="end" font-weight="normal" fill="#1e1e1e" >50</text>
<line x1="367.00" y1="618.50" x2="370.00" y2="618.50" stroke="#222" stroke-width="1.0" />
<text x="363.60" y="621.10" font-size="7.9" text-anchor="end" font-weight="normal" fill="#1e1e1e" >0</text>
<line x1="370.00" y1="565.70" x2="403.60" y2="565.70" stroke="#141414" stroke-width="1.4" stroke-dasharray="2.2,1.5"/>
<text x="378.30" y="628.50" font-size="8.19" text-anchor="middle" fill="#1e1e1e" textLength="8.68" lengthAdjust="spacingAndGlyphs">2h</text>
<text x="394.90" y="628.50" font-size="8.19" text-anchor="middle" fill="#1e1e1e" textLength="8.68" lengthAdjust="spacingAndGlyphs">6h</text>
<text x="386.10" y="530.40" font-size="9.6" text-anchor="middle" fill="#1e1e1e">CD4<tspan font-size="5.28" dy="-3.84">+</tspan></text>
<line x1="439.50" y1="536.60" x2="439.50" y2="619.20" stroke="#1a1a1a" stroke-width="1.5" />
<line x1="438.80" y1="618.50" x2="473.10" y2="618.50" stroke="#1a1a1a" stroke-width="1.5" />
<line x1="436.50" y1="539.50" x2="439.50" y2="539.50" stroke="#222" stroke-width="1.0" />
<text x="433.10" y="541.90" font-size="7.9" text-anchor="end" font-weight="normal" fill="#1e1e1e" >150</text>
<line x1="436.50" y1="565.50" x2="439.50" y2="565.50" stroke="#222" stroke-width="1.0" />
<text x="433.10" y="568.30" font-size="7.9" text-anchor="end" font-weight="normal" fill="#1e1e1e" >100</text>
<line x1="436.50" y1="592.50" x2="439.50" y2="592.50" stroke="#222" stroke-width="1.0" />
<text x="433.10" y="594.90" font-size="7.9" text-anchor="end" font-weight="normal" fill="#1e1e1e" >50</text>
<line x1="436.50" y1="618.50" x2="439.50" y2="618.50" stroke="#222" stroke-width="1.0" />
<text x="433.10" y="621.10" font-size="7.9" text-anchor="end" font-weight="normal" fill="#1e1e1e" >0</text>
<line x1="439.50" y1="565.70" x2="473.10" y2="565.70" stroke="#141414" stroke-width="1.4" stroke-dasharray="2.2,1.5"/>
<text x="447.80" y="628.50" font-size="8.19" text-anchor="middle" fill="#1e1e1e" textLength="8.68" lengthAdjust="spacingAndGlyphs">2h</text>
<text x="464.40" y="628.50" font-size="8.19" text-anchor="middle" fill="#1e1e1e" textLength="8.68" lengthAdjust="spacingAndGlyphs">6h</text>
<text x="456.00" y="530.40" font-size="9.6" text-anchor="middle" fill="#1e1e1e">CD8<tspan font-size="5.28" dy="-3.84">+</tspan></text>
<text x="0" y="0" font-size="8.8" text-anchor="middle" font-weight="bold" fill="#1e1e1e" style="stroke-width:0.45px" transform="translate(19.00,579.30) rotate(-90)" textLength="63.5" lengthAdjust="spacingAndGlyphs">CFSE<tspan font-size="4.84" dy="-3.52">+</tspan><tspan dy="3.52"> (% of control)</tspan></text>
<text x="0" y="0" font-size="9.0" text-anchor="middle" font-weight="bold" fill="#1e1e1e" style="stroke-width:0.45px" transform="translate(273.80,577.40) rotate(-90)" textLength="80.5" lengthAdjust="spacingAndGlyphs">Endogenous (% of control)</text>
<line x1="53.50" y1="565.60" x2="53.50" y2="576.40" stroke="#333" stroke-width="0.9" />
<line x1="50.36" y1="565.50" x2="56.64" y2="565.50" stroke="#333" stroke-width="1.0" />
<line x1="53.50" y1="598.40" x2="53.50" y2="608.70" stroke="#333" stroke-width="0.9" />
<line x1="50.36" y1="608.50" x2="56.64" y2="608.50" stroke="#333" stroke-width="1.0" />
<rect x="47.80" y="576.40" width="11.40" height="22.00" fill="#9e5c1c" stroke="#74420f" stroke-width="0.8"/>
<line x1="48.10" y1="583.30" x2="58.90" y2="583.30" stroke="#3a1805" stroke-width="1.4" />
<line x1="70.50" y1="591.50" x2="70.50" y2="596.20" stroke="#333" stroke-width="0.9" />
<line x1="67.12" y1="591.50" x2="73.28" y2="591.50" stroke="#333" stroke-width="1.0" />
<rect x="64.60" y="596.20" width="11.20" height="15.10" fill="#9e5c1c" stroke="#74420f" stroke-width="0.8"/>
<line x1="64.90" y1="604.40" x2="75.50" y2="604.40" stroke="#3a1805" stroke-width="1.4" />
<path d="M54.30,548.65L54.30,551.15M53.22,549.27L55.38,550.52M55.38,549.27L53.22,550.52" stroke="#151515" stroke-width="0.95" fill="none"/>
<path d="M66.00,548.65L66.00,551.15M64.92,549.27L67.08,550.52M67.08,549.27L64.92,550.52M69.00,548.65L69.00,551.15M67.92,549.27L70.08,550.52M70.08,549.27L67.92,550.52M72.00,548.65L72.00,551.15M70.92,549.27L73.08,550.52M73.08,549.27L70.92,550.52M75.00,548.65L75.00,551.15M73.92,549.27L76.08,550.52M76.08,549.27L73.92,550.52" stroke="#151515" stroke-width="0.95" fill="none"/>
<line x1="123.50" y1="568.50" x2="123.50" y2="576.80" stroke="#333" stroke-width="0.9" />
<line x1="120.96" y1="568.50" x2="126.74" y2="568.50" stroke="#333" stroke-width="1.0" />
<line x1="123.50" y1="585.80" x2="123.50" y2="596.40" stroke="#333" stroke-width="0.9" />
<line x1="120.96" y1="596.50" x2="126.74" y2="596.50" stroke="#333" stroke-width="1.0" />
<rect x="118.60" y="576.80" width="10.50" height="9.00" fill="#9e5c1c" stroke="#74420f" stroke-width="0.8"/>
<line x1="118.90" y1="580.00" x2="128.80" y2="580.00" stroke="#3a1805" stroke-width="1.4" />
<line x1="140.50" y1="586.80" x2="140.50" y2="588.30" stroke="#333" stroke-width="0.9" />
<line x1="137.71" y1="586.50" x2="143.59" y2="586.50" stroke="#333" stroke-width="1.0" />
<line x1="140.50" y1="606.90" x2="140.50" y2="610.20" stroke="#333" stroke-width="0.9" />
<line x1="137.71" y1="610.50" x2="143.59" y2="610.50" stroke="#333" stroke-width="1.0" />
<rect x="135.30" y="588.30" width="10.70" height="18.60" fill="#9e5c1c" stroke="#74420f" stroke-width="0.8"/>
<line x1="135.60" y1="594.40" x2="145.70" y2="594.40" stroke="#3a1805" stroke-width="1.4" />
<path d="M123.40,549.05L123.40,551.55M122.32,549.67L124.48,550.92M124.48,549.67L122.32,550.92M126.40,549.05L126.40,551.55M125.32,549.67L127.48,550.92M127.48,549.67L125.32,550.92" stroke="#151515" stroke-width="0.95" fill="none"/>
<path d="M140.00,549.05L140.00,551.55M138.92,549.67L141.08,550.92M141.08,549.67L138.92,550.92M143.00,549.05L143.00,551.55M141.92,549.67L144.08,550.92M144.08,549.67L141.92,550.92M146.00,549.05L146.00,551.55M144.92,549.67L147.08,550.92M147.08,549.67L144.92,550.92" stroke="#151515" stroke-width="0.95" fill="none"/>
<line x1="193.50" y1="558.90" x2="193.50" y2="575.60" stroke="#333" stroke-width="0.9" />
<line x1="190.96" y1="558.50" x2="196.74" y2="558.50" stroke="#333" stroke-width="1.0" />
<line x1="193.50" y1="591.60" x2="193.50" y2="600.20" stroke="#333" stroke-width="0.9" />
<line x1="190.96" y1="600.50" x2="196.74" y2="600.50" stroke="#333" stroke-width="1.0" />
<rect x="188.60" y="575.60" width="10.50" height="16.00" fill="#9e5c1c" stroke="#74420f" stroke-width="0.8"/>
<line x1="188.90" y1="585.80" x2="198.80" y2="585.80" stroke="#3a1805" stroke-width="1.4" />
<line x1="210.50" y1="575.20" x2="210.50" y2="589.60" stroke="#333" stroke-width="0.9" />
<line x1="207.71" y1="575.50" x2="213.59" y2="575.50" stroke="#333" stroke-width="1.0" />
<rect x="205.30" y="589.60" width="10.70" height="16.00" fill="#9e5c1c" stroke="#74420f" stroke-width="0.8"/>
<line x1="205.60" y1="597.30" x2="215.70" y2="597.30" stroke="#3a1805" stroke-width="1.4" />
<path d="M194.30,549.05L194.30,551.55M193.22,549.67L195.38,550.92M195.38,549.67L193.22,550.92" stroke="#151515" stroke-width="0.95" fill="none"/>
<path d="M209.20,549.05L209.20,551.55M208.12,549.67L210.28,550.92M210.28,549.67L208.12,550.92M212.20,549.05L212.20,551.55M211.12,549.67L213.28,550.92M213.28,549.67L211.12,550.92" stroke="#151515" stroke-width="0.95" fill="none"/>
<line x1="308.50" y1="554.10" x2="308.50" y2="554.50" stroke="#333" stroke-width="0.9" />
<line x1="305.10" y1="554.50" x2="311.20" y2="554.50" stroke="#333" stroke-width="1.0" />
<line x1="308.50" y1="591.60" x2="308.50" y2="596.40" stroke="#333" stroke-width="0.9" />
<line x1="305.10" y1="596.50" x2="311.20" y2="596.50" stroke="#333" stroke-width="1.0" />
<rect x="302.60" y="554.50" width="11.10" height="37.10" fill="#9e5c1c" stroke="#74420f" stroke-width="0.8"/>
<line x1="302.90" y1="581.00" x2="313.40" y2="581.00" stroke="#3a1805" stroke-width="1.4" />
<line x1="325.50" y1="584.50" x2="325.50" y2="591.00" stroke="#333" stroke-width="0.9" />
<line x1="322.56" y1="584.50" x2="327.84" y2="584.50" stroke="#333" stroke-width="1.0" />
<rect x="320.40" y="591.00" width="9.60" height="13.40" fill="#9e5c1c" stroke="#74420f" stroke-width="0.8"/>
<line x1="320.70" y1="602.50" x2="329.70" y2="602.50" stroke="#3a1805" stroke-width="1.4" />
<path d="M322.90,543.65L322.90,546.15M321.82,544.27L323.98,545.52M323.98,544.27L321.82,545.52M325.90,543.65L325.90,546.15M324.82,544.27L326.98,545.52M326.98,544.27L324.82,545.52M328.90,543.65L328.90,546.15M327.82,544.27L329.98,545.52M329.98,544.27L327.82,545.52" stroke="#151515" stroke-width="0.95" fill="none"/>
<line x1="378.50" y1="555.70" x2="378.50" y2="559.90" stroke="#333" stroke-width="0.9" />
<line x1="375.30" y1="555.50" x2="380.91" y2="555.50" stroke="#333" stroke-width="1.0" />
<line x1="378.50" y1="582.00" x2="378.50" y2="585.80" stroke="#333" stroke-width="0.9" />
<line x1="375.30" y1="585.50" x2="380.91" y2="585.50" stroke="#333" stroke-width="1.0" />
<rect x="373.00" y="559.90" width="10.20" height="22.10" fill="#9e5c1c" stroke="#74420f" stroke-width="0.8"/>
<line x1="373.30" y1="570.40" x2="382.90" y2="570.40" stroke="#3a1805" stroke-width="1.4" />
<line x1="394.50" y1="573.70" x2="394.50" y2="583.30" stroke="#333" stroke-width="0.9" />
<line x1="391.75" y1="573.50" x2="397.25" y2="573.50" stroke="#333" stroke-width="1.0" />
<line x1="394.50" y1="600.60" x2="394.50" y2="601.70" stroke="#333" stroke-width="0.9" />
<line x1="391.75" y1="601.50" x2="397.25" y2="601.50" stroke="#333" stroke-width="1.0" />
<rect x="389.50" y="583.30" width="10.00" height="17.30" fill="#9e5c1c" stroke="#74420f" stroke-width="0.8"/>
<line x1="389.80" y1="594.40" x2="399.20" y2="594.40" stroke="#3a1805" stroke-width="1.4" />
<path d="M394.20,543.65L394.20,546.15M393.12,544.27L395.28,545.52M395.28,544.27L393.12,545.52M397.20,543.65L397.20,546.15M396.12,544.27L398.28,545.52M398.28,544.27L396.12,545.52" stroke="#151515" stroke-width="0.95" fill="none"/>
<line x1="447.50" y1="555.10" x2="447.50" y2="555.70" stroke="#333" stroke-width="0.9" />
<line x1="444.86" y1="555.50" x2="450.64" y2="555.50" stroke="#333" stroke-width="1.0" />
<line x1="447.50" y1="582.50" x2="447.50" y2="584.50" stroke="#333" stroke-width="0.9" />
<line x1="444.86" y1="584.50" x2="450.64" y2="584.50" stroke="#333" stroke-width="1.0" />
<rect x="442.50" y="555.70" width="10.50" height="26.80" fill="#9e5c1c" stroke="#74420f" stroke-width="0.8"/>
<line x1="442.80" y1="572.40" x2="452.70" y2="572.40" stroke="#3a1805" stroke-width="1.4" />
<line x1="464.50" y1="575.20" x2="464.50" y2="582.00" stroke="#333" stroke-width="0.9" />
<line x1="461.69" y1="575.50" x2="467.51" y2="575.50" stroke="#333" stroke-width="1.0" />
<line x1="464.50" y1="601.20" x2="464.50" y2="603.60" stroke="#333" stroke-width="0.9" />
<line x1="461.69" y1="603.50" x2="467.51" y2="603.50" stroke="#333" stroke-width="1.0" />
<rect x="459.30" y="582.00" width="10.60" height="19.20" fill="#9e5c1c" stroke="#74420f" stroke-width="0.8"/>
<line x1="459.60" y1="592.90" x2="469.60" y2="592.90" stroke="#3a1805" stroke-width="1.4" />
<path d="M464.60,544.25L464.60,546.75M463.52,544.88L465.68,546.12M465.68,544.88L463.52,546.12M467.60,544.25L467.60,546.75M466.52,544.88L468.68,546.12M468.68,544.88L466.52,546.12" stroke="#151515" stroke-width="0.95" fill="none"/>
</g>
</svg></body></html>
